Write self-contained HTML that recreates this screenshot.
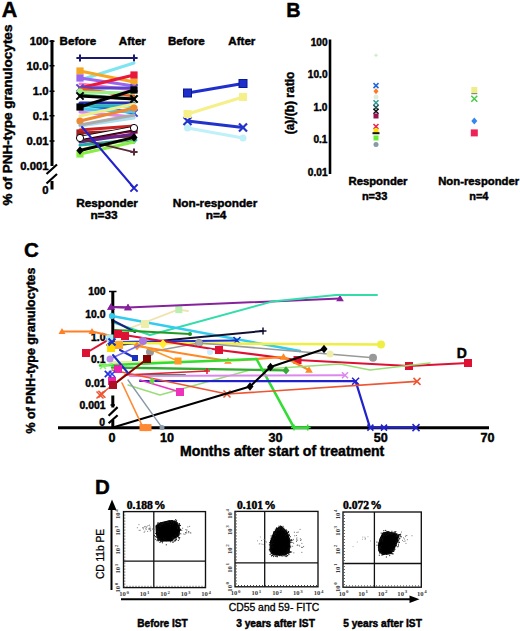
<!DOCTYPE html>
<html><head><meta charset="utf-8"><style>
html,body{margin:0;padding:0;background:#fff;}
svg{display:block;}
</style></head><body>
<svg width="520" height="631" viewBox="0 0 520 631">
<rect width="520" height="631" fill="#fff"/>
<text x="1.8" y="17.2" font-size="21.5" text-anchor="start" font-weight="bold" font-family='"Liberation Sans", sans-serif' fill="#000" stroke="#000" stroke-width="0.45" >A</text>
<text x="0" y="0" transform="translate(11.9,115) rotate(-90)" font-size="13.5" text-anchor="middle" font-weight="bold" font-family='"Liberation Sans", sans-serif' stroke="#000" stroke-width="0.45" >% of PNH-type granulocytes</text>
<path d="M52,40 L52,166 M52,181 L52,189.5" stroke="#000" stroke-width="3" fill="none"/>
<path d="M49.5,41.3 L54.5,41.3 M49.5,65.7 L54.5,65.7 M49.5,91.3 L54.5,91.3 M49.5,115.8 L54.5,115.8 M49.5,141 L54.5,141" stroke="#000" stroke-width="1.5"/>
<path d="M46.5,174 L57,164.5 M46.5,183.5 L57,174" stroke="#000" stroke-width="2.2" fill="none"/>
<text x="48.5" y="45" font-size="11.3" text-anchor="end" font-weight="bold" font-family='"Liberation Sans", sans-serif' fill="#000" stroke="#000" stroke-width="0.45" >100</text>
<text x="48.5" y="70" font-size="11.3" text-anchor="end" font-weight="bold" font-family='"Liberation Sans", sans-serif' fill="#000" stroke="#000" stroke-width="0.45" >10.0</text>
<text x="48.5" y="95" font-size="11.3" text-anchor="end" font-weight="bold" font-family='"Liberation Sans", sans-serif' fill="#000" stroke="#000" stroke-width="0.45" >1.0</text>
<text x="48.5" y="120" font-size="11.3" text-anchor="end" font-weight="bold" font-family='"Liberation Sans", sans-serif' fill="#000" stroke="#000" stroke-width="0.45" >0.1</text>
<text x="48.5" y="145" font-size="11.3" text-anchor="end" font-weight="bold" font-family='"Liberation Sans", sans-serif' fill="#000" stroke="#000" stroke-width="0.45" >0.01</text>
<text x="48.5" y="170" font-size="11.3" text-anchor="end" font-weight="bold" font-family='"Liberation Sans", sans-serif' fill="#000" stroke="#000" stroke-width="0.45" >0.001</text>
<text x="48.5" y="193.5" font-size="11.3" text-anchor="end" font-weight="bold" font-family='"Liberation Sans", sans-serif' fill="#000" stroke="#000" stroke-width="0.45" >0</text>
<text x="59.6" y="45" font-size="11.6" text-anchor="start" font-weight="bold" font-family='"Liberation Sans", sans-serif' fill="#000" stroke="#000" stroke-width="0.45" >Before</text>
<text x="118.8" y="45" font-size="11.6" text-anchor="start" font-weight="bold" font-family='"Liberation Sans", sans-serif' fill="#000" stroke="#000" stroke-width="0.45" >After</text>
<text x="168" y="45.4" font-size="11.6" text-anchor="start" font-weight="bold" font-family='"Liberation Sans", sans-serif' fill="#000" stroke="#000" stroke-width="0.45" >Before</text>
<text x="228.3" y="45.4" font-size="11.6" text-anchor="start" font-weight="bold" font-family='"Liberation Sans", sans-serif' fill="#000" stroke="#000" stroke-width="0.45" >After</text>
<text x="107" y="207" font-size="11.8" text-anchor="middle" font-weight="bold" font-family='"Liberation Sans", sans-serif' fill="#000" stroke="#000" stroke-width="0.45" >Responder</text>
<text x="104" y="219.3" font-size="11.8" text-anchor="middle" font-weight="bold" font-family='"Liberation Sans", sans-serif' fill="#000" stroke="#000" stroke-width="0.45" >n=33</text>
<text x="215" y="207" font-size="11.8" text-anchor="middle" font-weight="bold" font-family='"Liberation Sans", sans-serif' fill="#000" stroke="#000" stroke-width="0.45" >Non-responder</text>
<text x="216" y="219.3" font-size="11.8" text-anchor="middle" font-weight="bold" font-family='"Liberation Sans", sans-serif' fill="#000" stroke="#000" stroke-width="0.45" >n=4</text>
<polyline points="78,58 136,58" fill="none" stroke="#1a1a6e" stroke-width="1.8" stroke-linejoin="round" stroke-linecap="round" />
<path d="M76.4,58L83.6,58M80,54.4L80,61.6" stroke="#1a1a6e" stroke-width="2"/>
<path d="M130.4,58L137.6,58M134,54.4L134,61.6" stroke="#1a1a6e" stroke-width="2"/>
<polyline points="80,80 134,63" fill="none" stroke="#7fe5f0" stroke-width="3" stroke-linejoin="round" stroke-linecap="round" />
<polyline points="80,71 134,82" fill="none" stroke="#f5a623" stroke-width="3" stroke-linejoin="round" stroke-linecap="round" />
<rect x="76.4" y="67.4" width="7.2" height="7.2" fill="#f5a623"/>
<rect x="130.4" y="78.4" width="7.2" height="7.2" fill="#f5a623"/>
<polyline points="80,78 134,86" fill="none" stroke="#9a66ee" stroke-width="3" stroke-linejoin="round" stroke-linecap="round" />
<rect x="76.4" y="74.4" width="7.2" height="7.2" fill="#9a66ee"/>
<polyline points="80,84 134,90" fill="none" stroke="#ff77cc" stroke-width="3" stroke-linejoin="round" stroke-linecap="round" />
<polyline points="80,88 134,75" fill="none" stroke="#e8173c" stroke-width="3" stroke-linejoin="round" stroke-linecap="round" />
<rect x="130.4" y="71.4" width="7.2" height="7.2" fill="#e8173c"/>
<polyline points="80,88 134,88" fill="none" stroke="#5544cc" stroke-width="3" stroke-linejoin="round" stroke-linecap="round" />
<path d="M76.4,84.4L83.6,91.6M76.4,91.6L83.6,84.4" stroke="#5544cc" stroke-width="2"/>
<path d="M130.4,84.4L137.6,91.6M130.4,91.6L137.6,84.4" stroke="#5544cc" stroke-width="2"/>
<polyline points="80,89 134,96" fill="none" stroke="#ee5522" stroke-width="3" stroke-linejoin="round" stroke-linecap="round" />
<polyline points="80,92 134,93" fill="none" stroke="#99ee88" stroke-width="3" stroke-linejoin="round" stroke-linecap="round" />
<circle cx="80" cy="92" r="3.6" fill="#99ee88"/>
<polyline points="80,95 134,99" fill="none" stroke="#22aa44" stroke-width="3" stroke-linejoin="round" stroke-linecap="round" />
<path d="M130.4,95.4L137.6,102.6M130.4,102.6L137.6,95.4" stroke="#22aa44" stroke-width="2"/>
<polyline points="80,103 134,103" fill="none" stroke="#2233aa" stroke-width="3" stroke-linejoin="round" stroke-linecap="round" />
<polyline points="80,104 134,113" fill="none" stroke="#2244dd" stroke-width="3" stroke-linejoin="round" stroke-linecap="round" />
<path d="M130.4,109.4L137.6,116.6M130.4,116.6L137.6,109.4" stroke="#2244dd" stroke-width="2"/>
<polyline points="80,106 134,106" fill="none" stroke="#22bbbb" stroke-width="3" stroke-linejoin="round" stroke-linecap="round" />
<polyline points="80,109 134,112" fill="none" stroke="#44ccee" stroke-width="3" stroke-linejoin="round" stroke-linecap="round" />
<polyline points="80,112 134,117" fill="none" stroke="#dd88ee" stroke-width="3" stroke-linejoin="round" stroke-linecap="round" />
<polyline points="80,116 134,104" fill="none" stroke="#eeee88" stroke-width="3" stroke-linejoin="round" stroke-linecap="round" />
<polyline points="80,121 134,108" fill="none" stroke="#ee8833" stroke-width="3" stroke-linejoin="round" stroke-linecap="round" />
<circle cx="80" cy="121" r="3.6" fill="#ee8833"/>
<circle cx="134" cy="108" r="3.6" fill="#ee8833"/>
<polyline points="80,126 134,118" fill="none" stroke="#aaddee" stroke-width="3" stroke-linejoin="round" stroke-linecap="round" />
<polyline points="80,125 134,115" fill="none" stroke="#aaaaaa" stroke-width="3" stroke-linejoin="round" stroke-linecap="round" />
<polyline points="80,133 134,131" fill="none" stroke="#992222" stroke-width="3" stroke-linejoin="round" stroke-linecap="round" />
<rect x="76.4" y="129.4" width="7.2" height="7.2" fill="#992222"/>
<polyline points="80,130 134,126" fill="none" stroke="#cc2222" stroke-width="3" stroke-linejoin="round" stroke-linecap="round" />
<polyline points="80,138 134,136" fill="none" stroke="#663322" stroke-width="3" stroke-linejoin="round" stroke-linecap="round" />
<polyline points="80,140 134,130" fill="none" stroke="#770033" stroke-width="3" stroke-linejoin="round" stroke-linecap="round" />
<rect x="130.4" y="126.4" width="7.2" height="7.2" fill="#770033"/>
<polyline points="80,142 134,134" fill="none" stroke="#662288" stroke-width="3" stroke-linejoin="round" stroke-linecap="round" />
<polyline points="80,145 134,140" fill="none" stroke="#22aaaa" stroke-width="3" stroke-linejoin="round" stroke-linecap="round" />
<polygon points="134,135.68 137.6,140 134,144.32 130.4,140" fill="#22aaaa"/>
<polyline points="80,154 134,142" fill="none" stroke="#88ee44" stroke-width="3" stroke-linejoin="round" stroke-linecap="round" />
<rect x="76.4" y="150.4" width="7.2" height="7.2" fill="#88ee44"/>
<polyline points="80,150 134,138" fill="none" stroke="#bbdd33" stroke-width="3" stroke-linejoin="round" stroke-linecap="round" />
<polyline points="80,139 134,152" fill="none" stroke="#5a2a3a" stroke-width="1.8" stroke-linejoin="round" stroke-linecap="round" />
<path d="M130.4,152L137.6,152M134,148.4L134,155.6" stroke="#5a2a3a" stroke-width="2"/>
<polyline points="80,138 134,128" fill="none" stroke="#000" stroke-width="4.2" stroke-linejoin="round" stroke-linecap="round" />
<polyline points="80,138 134,128" fill="none" stroke="#fff" stroke-width="2.4" stroke-linejoin="round" stroke-linecap="round" />
<circle cx="80" cy="138" r="3.6" fill="#fff" stroke="#000" stroke-width="1"/>
<circle cx="134" cy="128" r="3.6" fill="#fff" stroke="#000" stroke-width="1"/>
<polyline points="80,107 134,90" fill="none" stroke="#000000" stroke-width="3" stroke-linejoin="round" stroke-linecap="round" />
<rect x="76.4" y="103.4" width="7.2" height="7.2" fill="#000000"/>
<rect x="130.4" y="86.4" width="7.2" height="7.2" fill="#000000"/>
<polyline points="80,150.5 134,137.4" fill="none" stroke="#000000" stroke-width="3" stroke-linejoin="round" stroke-linecap="round" />
<polygon points="80,146.18 83.6,150.5 80,154.82 76.4,150.5" fill="#000000"/>
<polygon points="134,133.08 137.6,137.4 134,141.72 130.4,137.4" fill="#000000"/>
<polyline points="82,127 134,188" fill="none" stroke="#2222cc" stroke-width="2" stroke-linejoin="round" stroke-linecap="round" />
<path d="M130.4,184.4L137.6,191.6M130.4,191.6L137.6,184.4" stroke="#2222cc" stroke-width="2"/>
<polyline points="80,96 134,99" fill="none" stroke="#000000" stroke-width="3" stroke-linejoin="round" stroke-linecap="round" />
<path d="M76.4,92.4L83.6,99.6M76.4,99.6L83.6,92.4" stroke="#000000" stroke-width="2"/>
<path d="M130.4,95.4L137.6,102.6M130.4,102.6L137.6,95.4" stroke="#000000" stroke-width="2"/>
<polyline points="187.5,128 243,138" fill="none" stroke="#c0f0f8" stroke-width="3" stroke-linejoin="round" stroke-linecap="round" />
<circle cx="187.5" cy="128" r="3.5" fill="#c0f0f8"/>
<circle cx="243" cy="138" r="3.5" fill="#c0f0f8"/>
<polyline points="187.5,121 243,127.5" fill="none" stroke="#2233cc" stroke-width="3" stroke-linejoin="round" stroke-linecap="round" />
<path d="M183.5,117L191.5,125M183.5,125L191.5,117" stroke="#2233cc" stroke-width="2.2"/>
<path d="M239,123.5L247,131.5M239,131.5L247,123.5" stroke="#2233cc" stroke-width="2.2"/>
<polyline points="187.5,114 243,97" fill="none" stroke="#f5f08a" stroke-width="3" stroke-linejoin="round" stroke-linecap="round" />
<rect x="183.5" y="110" width="8" height="8" fill="#f5f08a"/>
<rect x="239" y="93" width="8" height="8" fill="#f5f08a"/>
<polyline points="187.5,93 243,83.5" fill="none" stroke="#1f2fcc" stroke-width="3" stroke-linejoin="round" stroke-linecap="round" />
<rect x="183.5" y="89" width="8" height="8" fill="#1f2fcc"/>
<rect x="239" y="79.5" width="8" height="8" fill="#1f2fcc"/>
<rect x="183.5" y="89" width="8" height="8" fill="none" stroke="#0a1a90" stroke-width="1"/>
<rect x="239" y="79.5" width="8" height="8" fill="none" stroke="#0a1a90" stroke-width="1"/>
<text x="286.3" y="17.4" font-size="19.8" text-anchor="start" font-weight="bold" font-family='"Liberation Sans", sans-serif' fill="#000" stroke="#000" stroke-width="0.45" >B</text>
<text x="0" y="0" transform="translate(294.3,103) rotate(-90)" font-size="12" text-anchor="middle" font-weight="bold" font-family='"Liberation Sans", sans-serif' stroke="#000" stroke-width="0.45" >(a)/(b) ratio</text>
<path d="M330,39.5 L330,174" stroke="#000" stroke-width="2.6"/>
<text x="327.5" y="45.6" font-size="10.1" text-anchor="end" font-weight="bold" font-family='"Liberation Sans", sans-serif' fill="#000" stroke="#000" stroke-width="0.45" >100</text>
<text x="327.5" y="77.89999999999999" font-size="10.1" text-anchor="end" font-weight="bold" font-family='"Liberation Sans", sans-serif' fill="#000" stroke="#000" stroke-width="0.45" >10.0</text>
<text x="327.5" y="110.6" font-size="10.1" text-anchor="end" font-weight="bold" font-family='"Liberation Sans", sans-serif' fill="#000" stroke="#000" stroke-width="0.45" >1.0</text>
<text x="327.5" y="143.29999999999998" font-size="10.1" text-anchor="end" font-weight="bold" font-family='"Liberation Sans", sans-serif' fill="#000" stroke="#000" stroke-width="0.45" >0.1</text>
<text x="327.5" y="175.6" font-size="10.1" text-anchor="end" font-weight="bold" font-family='"Liberation Sans", sans-serif' fill="#000" stroke="#000" stroke-width="0.45" >0.01</text>
<text x="378" y="184.5" font-size="11.3" text-anchor="middle" font-weight="bold" font-family='"Liberation Sans", sans-serif' fill="#000" stroke="#000" stroke-width="0.45" >Responder</text>
<text x="374.6" y="199.6" font-size="11" text-anchor="middle" font-weight="bold" font-family='"Liberation Sans", sans-serif' fill="#000" stroke="#000" stroke-width="0.45" >n=33</text>
<text x="478.7" y="184.5" font-size="11.3" text-anchor="middle" font-weight="bold" font-family='"Liberation Sans", sans-serif' fill="#000" stroke="#000" stroke-width="0.45" >Non-responder</text>
<text x="478.8" y="199.6" font-size="11" text-anchor="middle" font-weight="bold" font-family='"Liberation Sans", sans-serif' fill="#000" stroke="#000" stroke-width="0.45" >n=4</text>
<path d="M374.2,55.2L377.8,55.2M376,53.400000000000006L376,57.0" stroke="#c4eac4" stroke-width="1.1"/>
<path d="M373.5,83.1L378.5,88.1M373.5,88.1L378.5,83.1" stroke="#2266dd" stroke-width="1.5"/>
<polygon points="376,88.3 378.5,91.3 376,94.3 373.5,91.3" fill="#ff7722"/>
<circle cx="376" cy="97" r="2.5" fill="#ddeedd"/>
<path d="M373.5,100.2L378.5,105.2M373.5,105.2L378.5,100.2" stroke="#339999" stroke-width="1.5"/>
<path d="M373.5,105.0L378.5,110.0M373.5,110.0L378.5,105.0" stroke="#225555" stroke-width="1.5"/>
<path d="M373.5,108.8L378.5,113.8M373.5,113.8L378.5,108.8" stroke="#111111" stroke-width="1.5"/>
<rect x="373.5" y="113.5" width="5.0" height="5.0" fill="#991155"/>
<path d="M373.5,124.0L378.5,129.0M373.5,129.0L378.5,124.0" stroke="#ee2244" stroke-width="1.5"/>
<rect x="373.5" y="128.5" width="5.0" height="5.0" fill="#ffdd00"/>
<rect x="372.5" y="132.2" width="7" height="2" fill="#111"/>
<rect x="373.5" y="135.5" width="5.0" height="5.0" fill="#66ee33"/>
<circle cx="376" cy="144.6" r="2.5" fill="#8899aa"/>
<rect x="471.3" y="87" width="6" height="6" fill="#eeee88"/>
<rect x="471.3" y="93" width="6" height="1.2" fill="#888"/>
<path d="M471.3,95.8L477.3,101.8M471.3,101.8L477.3,95.8" stroke="#44cc44" stroke-width="1.5"/>
<polygon points="474.3,117.4 477.3,121 474.3,124.6 471.3,121" fill="#3388ee"/>
<rect x="470.8" y="129.4" width="7.0" height="7.0" fill="#ee2255"/>
<text x="24" y="256.6" font-size="20.5" text-anchor="start" font-weight="bold" font-family='"Liberation Sans", sans-serif' fill="#000" stroke="#000" stroke-width="0.45" >C</text>
<text x="0" y="0" transform="translate(35.3,350.6) rotate(-90)" font-size="12.4" text-anchor="middle" font-weight="bold" font-family='"Liberation Sans", sans-serif' stroke="#000" stroke-width="0.45" >% of PNH-type granulocytes</text>
<text x="105.5" y="295.4" font-size="10.4" text-anchor="end" font-weight="bold" font-family='"Liberation Sans", sans-serif' fill="#000" stroke="#000" stroke-width="0.45" >100</text>
<text x="105.5" y="318.0" font-size="10.4" text-anchor="end" font-weight="bold" font-family='"Liberation Sans", sans-serif' fill="#000" stroke="#000" stroke-width="0.45" >10.0</text>
<text x="105.5" y="341.2" font-size="10.4" text-anchor="end" font-weight="bold" font-family='"Liberation Sans", sans-serif' fill="#000" stroke="#000" stroke-width="0.45" >1.0</text>
<text x="105.5" y="363.0" font-size="10.4" text-anchor="end" font-weight="bold" font-family='"Liberation Sans", sans-serif' fill="#000" stroke="#000" stroke-width="0.45" >0.1</text>
<text x="105.5" y="386.9" font-size="10.4" text-anchor="end" font-weight="bold" font-family='"Liberation Sans", sans-serif' fill="#000" stroke="#000" stroke-width="0.45" >0.01</text>
<text x="105.5" y="408.5" font-size="10.4" text-anchor="end" font-weight="bold" font-family='"Liberation Sans", sans-serif' fill="#000" stroke="#000" stroke-width="0.45" >0.001</text>
<text x="105" y="425.5" font-size="10.4" text-anchor="end" font-weight="bold" font-family='"Liberation Sans", sans-serif' fill="#000" stroke="#000" stroke-width="0.45" >0</text>
<text x="112" y="442" font-size="12.6" text-anchor="middle" font-weight="bold" font-family='"Liberation Sans", sans-serif' fill="#000" stroke="#000" stroke-width="0.45" >0</text>
<text x="167" y="442" font-size="12.6" text-anchor="middle" font-weight="bold" font-family='"Liberation Sans", sans-serif' fill="#000" stroke="#000" stroke-width="0.45" >10</text>
<text x="275.5" y="442" font-size="12.6" text-anchor="middle" font-weight="bold" font-family='"Liberation Sans", sans-serif' fill="#000" stroke="#000" stroke-width="0.45" >30</text>
<text x="380.7" y="442" font-size="12.6" text-anchor="middle" font-weight="bold" font-family='"Liberation Sans", sans-serif' fill="#000" stroke="#000" stroke-width="0.45" >50</text>
<text x="487.6" y="442" font-size="12.6" text-anchor="middle" font-weight="bold" font-family='"Liberation Sans", sans-serif' fill="#000" stroke="#000" stroke-width="0.45" >70</text>
<text x="282.1" y="456" font-size="14.1" text-anchor="middle" font-weight="bold" font-family='"Liberation Sans", sans-serif' fill="#000" stroke="#000" stroke-width="0.45" >Months after start of treatment</text>
<text x="456.8" y="357.5" font-size="14" text-anchor="start" font-weight="bold" font-family='"Liberation Sans", sans-serif' fill="#000" stroke="#000" stroke-width="0.45" >D</text>
<path d="M58,427.7 L489,427.7" stroke="#000" stroke-width="3"/>
<polyline points="62,331.5 92,331.5 112,336" fill="none" stroke="#ff7f27" stroke-width="2" stroke-linejoin="round" stroke-linecap="round" />
<polygon points="62,327.98 65.52,334.06 58.48,334.06" fill="#ff7f27"/>
<polygon points="92,327.98 95.52,334.06 88.48,334.06" fill="#ff7f27"/>
<polyline points="120,332 178,309.6 188,311" fill="none" stroke="#f2e2b0" stroke-width="1.8" stroke-linejoin="round" stroke-linecap="round" />
<rect x="175.3" y="306.1" width="7.0" height="7.0" fill="#b8f0b0"/>
<polyline points="111,307 128,307.5 340,298.5" fill="none" stroke="#86229c" stroke-width="2" stroke-linejoin="round" stroke-linecap="round" />
<polygon points="111,303.15 114.85,309.8 107.15,309.8" fill="#86229c"/>
<polygon points="128,303.65 131.85,310.3 124.15,310.3" fill="#86229c"/>
<polygon points="340,294.65 343.85,301.3 336.15,301.3" fill="#86229c"/>
<polyline points="112,322 150,335 272,301.6 336,295 377,295" fill="none" stroke="#33ddaa" stroke-width="2" stroke-linejoin="round" stroke-linecap="round" />
<polyline points="112,316 300,351" fill="none" stroke="#33ccee" stroke-width="2.4" stroke-linejoin="round" stroke-linecap="round" />
<circle cx="112" cy="316" r="3" fill="#33ccee"/>
<polyline points="112,320 135,332" fill="none" stroke="#1a237e" stroke-width="2" stroke-linejoin="round" stroke-linecap="round" />
<polyline points="112,345.5 263,331" fill="none" stroke="#111133" stroke-width="2" stroke-linejoin="round" stroke-linecap="round" />
<path d="M259.5,331L266.5,331M263,327.5L263,334.5" stroke="#111133" stroke-width="1.5"/>
<polyline points="110,342 237,340.5" fill="none" stroke="#1a2fbf" stroke-width="2.2" stroke-linejoin="round" stroke-linecap="round" />
<path d="M106.5,338.5L113.5,345.5M106.5,345.5L113.5,338.5" stroke="#1a2fbf" stroke-width="1.5"/>
<path d="M233.5,337.0L240.5,344.0M233.5,344.0L240.5,337.0" stroke="#1a2fbf" stroke-width="1.5"/>
<polyline points="112,343 381,344.5" fill="none" stroke="#eeee44" stroke-width="2.4" stroke-linejoin="round" stroke-linecap="round" />
<circle cx="381" cy="344.5" r="4" fill="#eeee44"/>
<polyline points="150,352 199,343 373,357.8" fill="none" stroke="#999999" stroke-width="1.6" stroke-linejoin="round" stroke-linecap="round" />
<circle cx="150" cy="352" r="4" fill="#999999"/>
<circle cx="199" cy="343" r="4" fill="#999999"/>
<circle cx="373" cy="357.8" r="4" fill="#999999"/>
<polyline points="118,334 219,350 297.5,360 409,366 468,363" fill="none" stroke="#dd1133" stroke-width="2.2" stroke-linejoin="round" stroke-linecap="round" />
<rect x="114" y="330" width="8" height="8" fill="#dd1133"/>
<rect x="215" y="346" width="8" height="8" fill="#dd1133"/>
<rect x="293.5" y="356" width="8" height="8" fill="#dd1133"/>
<rect x="405" y="362" width="8" height="8" fill="#dd1133"/>
<rect x="464" y="359" width="8" height="8" fill="#dd1133"/>
<rect x="121" y="332" width="8" height="8" fill="#dd1133"/>
<polyline points="137,346 228,361 283.5,357 309,370" fill="none" stroke="#ff8822" stroke-width="2" stroke-linejoin="round" stroke-linecap="round" />
<polygon points="137,341.8 140.5,346 137,350.2 133.5,346" fill="#ff8822"/>
<polygon points="228,357.15 231.85,363.8 224.15,363.8" fill="#ff8822"/>
<polygon points="283.5,353.15 287.35,359.8 279.65,359.8" fill="#ff8822"/>
<polygon points="309,366.15 312.85,372.8 305.15,372.8" fill="#ff8822"/>
<polyline points="112,362 240,361" fill="none" stroke="#eef0a0" stroke-width="2.2" stroke-linejoin="round" stroke-linecap="round" />
<polyline points="128,385 160,395 185,388 250,370 340,364 370,370 430,363" fill="none" stroke="#99dd77" stroke-width="1.4" stroke-linejoin="round" stroke-linecap="round" />
<polyline points="115,330 190,334" fill="none" stroke="#229922" stroke-width="2.2" stroke-linejoin="round" stroke-linecap="round" />
<circle cx="190" cy="334" r="2" fill="#229922"/>
<polyline points="112,367.5 286,370.4" fill="none" stroke="#33aa33" stroke-width="2.4" stroke-linejoin="round" stroke-linecap="round" />
<polygon points="286,366.2 289.5,370.4 286,374.59999999999997 282.5,370.4" fill="#33aa33"/>
<polyline points="130,375 185,375" fill="none" stroke="#338833" stroke-width="2" stroke-linejoin="round" stroke-linecap="round" />
<polyline points="100,365.5 256.5,359 294,427.6 307.7,427.6" fill="none" stroke="#33dd33" stroke-width="2.6" stroke-linejoin="round" stroke-linecap="round" />
<path d="M291,427.6L297,427.6M294,424.6L294,430.6" stroke="#33dd33" stroke-width="1.5"/>
<path d="M304.7,427.6L310.7,427.6M307.7,424.6L307.7,430.6" stroke="#33dd33" stroke-width="1.5"/>
<polyline points="125,375 207,371" fill="none" stroke="#dd2233" stroke-width="1.6" stroke-linejoin="round" stroke-linecap="round" />
<path d="M204,371L210,371M207,368L207,374" stroke="#dd2233" stroke-width="1.5"/>
<polyline points="130,376 345,375.2" fill="none" stroke="#dd88ee" stroke-width="2" stroke-linejoin="round" stroke-linecap="round" />
<path d="M342,372.2L348,378.2M342,378.2L348,372.2" stroke="#dd88ee" stroke-width="1.5"/>
<polyline points="140,381 355.6,381.2 370,427.6 416,427.6" fill="none" stroke="#2222cc" stroke-width="2.2" stroke-linejoin="round" stroke-linecap="round" />
<path d="M352.1,377.7L359.1,384.7M352.1,384.7L359.1,377.7" stroke="#2222cc" stroke-width="1.5"/>
<path d="M412.5,424.1L419.5,431.1M412.5,431.1L419.5,424.1" stroke="#2222cc" stroke-width="1.5"/>
<path d="M381,424.6L387,430.6M381,430.6L387,424.6" stroke="#2222cc" stroke-width="1.6"/>
<path d="M367.4,424.6L373.4,430.6M367.4,430.6L373.4,424.6" stroke="#2222cc" stroke-width="1.6"/>
<polyline points="112,370 227,394 417,381.4" fill="none" stroke="#ee5533" stroke-width="1.6" stroke-linejoin="round" stroke-linecap="round" />
<path d="M223.5,390.5L230.5,397.5M223.5,397.5L230.5,390.5" stroke="#ee5533" stroke-width="1.5"/>
<path d="M413.5,377.9L420.5,384.9M413.5,384.9L420.5,377.9" stroke="#ee5533" stroke-width="1.5"/>
<polyline points="112,427.7 250,386.5 270.5,367 324,349" fill="none" stroke="#000000" stroke-width="2" stroke-linejoin="round" stroke-linecap="round" />
<polygon points="250,382.3 253.5,386.5 250,390.7 246.5,386.5" fill="#000000"/>
<polygon points="270.5,362.8 274.0,367 270.5,371.2 267.0,367" fill="#000000"/>
<polygon points="324,344.8 327.5,349 324,353.2 320.5,349" fill="#000000"/>
<polyline points="122,383 143,427.6" fill="none" stroke="#ff8833" stroke-width="1.6" stroke-linejoin="round" stroke-linecap="round" />
<rect x="139.5" y="424.1" width="7.0" height="7.0" fill="#ff8833"/>
<rect x="144.5" y="424.1" width="7.0" height="7.0" fill="#ff8833"/>
<polyline points="128,380 162,427.6" fill="none" stroke="#8899aa" stroke-width="1.4" stroke-linejoin="round" stroke-linecap="round" />
<circle cx="162" cy="427.6" r="2.5" fill="#8899aa"/>
<polyline points="140,380 180,392" fill="none" stroke="#ee33bb" stroke-width="1.6" stroke-linejoin="round" stroke-linecap="round" />
<rect x="176" y="388" width="8" height="8" fill="#ee33bb"/>
<polyline points="86,353 106.5,340.8" fill="none" stroke="#dd1133" stroke-width="2" stroke-linejoin="round" stroke-linecap="round" />
<rect x="82" y="349" width="8" height="8" fill="#dd1133"/>
<polyline points="100,395 125,375" fill="none" stroke="#ee5533" stroke-width="1.6" stroke-linejoin="round" stroke-linecap="round" />
<path d="M96.5,391.5L103.5,398.5M96.5,398.5L103.5,391.5" stroke="#ee5533" stroke-width="1.5"/>
<polyline points="140,345 178,361" fill="none" stroke="#ff9922" stroke-width="1.6" stroke-linejoin="round" stroke-linecap="round" />
<rect x="174.5" y="357.5" width="7.0" height="7.0" fill="#ff9922"/>
<polyline points="112,386 147,359" fill="none" stroke="#880000" stroke-width="2" stroke-linejoin="round" stroke-linecap="round" />
<rect x="143" y="355" width="8" height="8" fill="#880000"/>
<polyline points="120,350 135,358" fill="none" stroke="#1a2fbf" stroke-width="2.2" stroke-linejoin="round" stroke-linecap="round" />
<rect x="132" y="355" width="6" height="6" fill="#1a2fbf"/>
<path d="M112.8,291.5 L112.8,342 M112.8,395.5 L112.8,407.6 M112.8,420 L112.8,428" stroke="#000" stroke-width="3" fill="none"/>
<path d="M109,291.5 L116.5,291.5 M110.5,405 L115,405" stroke="#000" stroke-width="1.6"/>
<path d="M108.6,415.7 L117.6,407.1 M108.6,423.3 L117.6,415.2" stroke="#000" stroke-width="2.2" fill="none"/>
<polyline points="110,359 140,345" fill="none" stroke="#7a6ff0" stroke-width="1.4" stroke-linejoin="round" stroke-linecap="round" />
<polyline points="113,355 128,373" fill="none" stroke="#1a2fbf" stroke-width="2" stroke-linejoin="round" stroke-linecap="round" />
<polyline points="103,366 112,364" fill="none" stroke="#88ee66" stroke-width="2" stroke-linejoin="round" stroke-linecap="round" />
<path d="M100,363L106,369M100,369L106,363" stroke="#88ee66" stroke-width="1.5"/>
<polyline points="111,307 128,307.5" fill="none" stroke="#86229c" stroke-width="2" stroke-linejoin="round" stroke-linecap="round" />
<polygon points="111,303.15 114.85,309.8 107.15,309.8" fill="#86229c"/>
<polygon points="128,303.65 131.85,310.3 124.15,310.3" fill="#86229c"/>
<circle cx="112" cy="316" r="3" fill="#33ccee"/>
<circle cx="143" cy="341" r="4" fill="#aa77dd"/>
<polygon points="163,339.2 167,344 163,348.8 159,344" fill="#ffee33"/>
<rect x="141" y="320" width="8" height="8" fill="#eeeeaa"/>
<rect x="107" y="344" width="8" height="8" fill="#ffdd00"/>
<rect x="115" y="341" width="8" height="8" fill="#ffaa22"/>
<rect x="106.5" y="334.5" width="7.0" height="7.0" fill="#aaeeee"/>
<rect x="114" y="330" width="8" height="8" fill="#dd1133"/>
<rect x="121" y="332" width="8" height="8" fill="#dd1133"/>
<path d="M108.5,338.5L115.5,345.5M108.5,345.5L115.5,338.5" stroke="#1a2fbf" stroke-width="2"/>
<circle cx="110" cy="359" r="3.5" fill="#bb88ee"/>
<circle cx="199" cy="343" r="3" fill="#aaaaaa"/>
<circle cx="210" cy="352" r="3" fill="#cceeff"/>
<circle cx="330" cy="354" r="3.5" fill="#eeeeaa"/>
<rect x="114" y="365" width="8" height="8" fill="#ee22aa"/>
<rect x="108" y="377" width="8" height="8" fill="#ee22aa"/>
<rect x="109" y="381" width="8" height="8" fill="#aa1122"/>
<path d="M104.8,370.8L111.2,377.2M104.8,377.2L111.2,370.8" stroke="#2233dd" stroke-width="1.8"/>
<path d="M109,371L115,377M109,377L115,371" stroke="#3344ee" stroke-width="1.6"/>
<polygon points="152,377.4 155,381 152,384.6 149,381" fill="#66dd44"/>
<path d="M98.4,390.8L105.4,397.8M98.4,397.8L105.4,390.8" stroke="#ee5533" stroke-width="1.6"/>
<text x="95" y="493.7" font-size="20.5" text-anchor="start" font-weight="bold" font-family='"Liberation Sans", sans-serif' fill="#000" stroke="#000" stroke-width="0.45" >D</text>
<path d="M111.5,590 L111.5,508" stroke="#000" stroke-width="2"/>
<polygon points="112,499.5 107.8,510 116.5,510" fill="#000"/>
<text x="0" y="0" transform="translate(104.2,554) rotate(-90)" font-size="10.2" text-anchor="middle" font-weight="normal" font-family='"Liberation Sans", sans-serif' stroke="#000" stroke-width="0.3" >CD 11b PE</text>
<path d="M121,599.3 L411,599.3" stroke="#000" stroke-width="2"/>
<polygon points="419.5,599.3 409.5,595.5 409.5,603.1" fill="#000"/>
<text x="274" y="610.6" font-size="10.4" text-anchor="middle" font-weight="normal" font-family='"Liberation Sans", sans-serif' fill="#000" stroke="#000" stroke-width="0.3" >CD55 and 59- FITC</text>
<text x="162.5" y="626.6" font-size="10.1" text-anchor="middle" font-weight="bold" font-family='"Liberation Sans", sans-serif' fill="#000" stroke="#000" stroke-width="0.45" >Before IST</text>
<text x="275.5" y="627.3" font-size="10.2" text-anchor="middle" font-weight="bold" font-family='"Liberation Sans", sans-serif' fill="#000" stroke="#000" stroke-width="0.45" >3 years after IST</text>
<text x="382.5" y="627" font-size="10.2" text-anchor="middle" font-weight="bold" font-family='"Liberation Sans", sans-serif' fill="#000" stroke="#000" stroke-width="0.45" >5 years after IST</text>
<rect x="123.5" y="511.6" width="82.0" height="76.0" fill="none" stroke="#111" stroke-width="1.35"/>
<path d="M153.8,511.6 L153.8,587.6 M123.5,561.2 L205.5,561.2" stroke="#111" stroke-width="1.3"/>
<text x="126.8" y="508.6" font-size="11.6" text-anchor="start" font-weight="bold" font-family='"Liberation Serif", serif' fill="#000" stroke="#000" stroke-width="0.45" >0.188<tspan dx="1.2">%</tspan></text>
<text transform="translate(120.3,587.6) rotate(-90)" font-size="6.6" text-anchor="middle" font-family='"Liberation Serif", serif' font-weight="bold" fill="#3a3a3a">10<tspan dx="0.7" dy="-2.4" font-size="4.9">0</tspan></text>
<text x="124.0" y="595.9" font-size="6.6" text-anchor="middle" font-family='"Liberation Serif", serif' font-weight="bold" fill="#3a3a3a">10<tspan dx="0.7" dy="-2.4" font-size="4.9">0</tspan></text>
<text transform="translate(120.3,568.6) rotate(-90)" font-size="6.6" text-anchor="middle" font-family='"Liberation Serif", serif' font-weight="bold" fill="#3a3a3a">10<tspan dx="0.7" dy="-2.4" font-size="4.9">1</tspan></text>
<text x="144.5" y="595.9" font-size="6.6" text-anchor="middle" font-family='"Liberation Serif", serif' font-weight="bold" fill="#3a3a3a">10<tspan dx="0.7" dy="-2.4" font-size="4.9">1</tspan></text>
<text transform="translate(120.3,549.6) rotate(-90)" font-size="6.6" text-anchor="middle" font-family='"Liberation Serif", serif' font-weight="bold" fill="#3a3a3a">10<tspan dx="0.7" dy="-2.4" font-size="4.9">2</tspan></text>
<text x="165.0" y="595.9" font-size="6.6" text-anchor="middle" font-family='"Liberation Serif", serif' font-weight="bold" fill="#3a3a3a">10<tspan dx="0.7" dy="-2.4" font-size="4.9">2</tspan></text>
<text transform="translate(120.3,530.6) rotate(-90)" font-size="6.6" text-anchor="middle" font-family='"Liberation Serif", serif' font-weight="bold" fill="#3a3a3a">10<tspan dx="0.7" dy="-2.4" font-size="4.9">3</tspan></text>
<text x="185.5" y="595.9" font-size="6.6" text-anchor="middle" font-family='"Liberation Serif", serif' font-weight="bold" fill="#3a3a3a">10<tspan dx="0.7" dy="-2.4" font-size="4.9">3</tspan></text>
<text transform="translate(120.3,514.1) rotate(-90)" font-size="6.6" text-anchor="middle" font-family='"Liberation Serif", serif' font-weight="bold" fill="#3a3a3a">10<tspan dx="0.7" dy="-2.4" font-size="4.9">4</tspan></text>
<text x="206.0" y="595.9" font-size="6.6" text-anchor="middle" font-family='"Liberation Serif", serif' font-weight="bold" fill="#3a3a3a">10<tspan dx="0.7" dy="-2.4" font-size="4.9">4</tspan></text>
<rect x="124.3" y="511.6" width="1" height="1" fill="#444"/><rect x="124.3" y="514.6" width="1" height="1" fill="#444"/><rect x="124.3" y="517.6" width="1" height="1" fill="#444"/><rect x="124.3" y="520.6" width="1" height="1" fill="#444"/><rect x="124.3" y="523.6" width="1" height="1" fill="#444"/><rect x="124.3" y="526.6" width="1" height="1" fill="#444"/><rect x="124.3" y="529.6" width="1" height="1" fill="#444"/><rect x="124.3" y="532.6" width="1" height="1" fill="#444"/><rect x="124.3" y="535.6" width="1" height="1" fill="#444"/><rect x="124.3" y="538.6" width="1" height="1" fill="#444"/><rect x="124.3" y="541.6" width="1" height="1" fill="#444"/><rect x="124.3" y="544.6" width="1" height="1" fill="#444"/><rect x="124.3" y="547.6" width="1" height="1" fill="#444"/><rect x="124.3" y="550.6" width="1" height="1" fill="#444"/><rect x="124.3" y="553.6" width="1" height="1" fill="#444"/><rect x="124.3" y="556.6" width="1" height="1" fill="#444"/><rect x="124.3" y="559.6" width="1" height="1" fill="#444"/><rect x="124.3" y="562.6" width="1" height="1" fill="#444"/><rect x="124.3" y="565.6" width="1" height="1" fill="#444"/><rect x="124.3" y="568.6" width="1" height="1" fill="#444"/><rect x="124.3" y="571.6" width="1" height="1" fill="#444"/><rect x="124.3" y="574.6" width="1" height="1" fill="#444"/><rect x="124.3" y="577.6" width="1" height="1" fill="#444"/><rect x="124.3" y="580.6" width="1" height="1" fill="#444"/><rect x="124.3" y="583.6" width="1" height="1" fill="#444"/><rect x="124.3" y="586.6" width="1" height="1" fill="#444"/><rect x="123.5" y="585.8000000000001" width="1" height="1" fill="#444"/><rect x="126.5" y="585.8000000000001" width="1" height="1" fill="#444"/><rect x="129.5" y="585.8000000000001" width="1" height="1" fill="#444"/><rect x="132.5" y="585.8000000000001" width="1" height="1" fill="#444"/><rect x="135.5" y="585.8000000000001" width="1" height="1" fill="#444"/><rect x="138.5" y="585.8000000000001" width="1" height="1" fill="#444"/><rect x="141.5" y="585.8000000000001" width="1" height="1" fill="#444"/><rect x="144.5" y="585.8000000000001" width="1" height="1" fill="#444"/><rect x="147.5" y="585.8000000000001" width="1" height="1" fill="#444"/><rect x="150.5" y="585.8000000000001" width="1" height="1" fill="#444"/><rect x="153.5" y="585.8000000000001" width="1" height="1" fill="#444"/><rect x="156.5" y="585.8000000000001" width="1" height="1" fill="#444"/><rect x="159.5" y="585.8000000000001" width="1" height="1" fill="#444"/><rect x="162.5" y="585.8000000000001" width="1" height="1" fill="#444"/><rect x="165.5" y="585.8000000000001" width="1" height="1" fill="#444"/><rect x="168.5" y="585.8000000000001" width="1" height="1" fill="#444"/><rect x="171.5" y="585.8000000000001" width="1" height="1" fill="#444"/><rect x="174.5" y="585.8000000000001" width="1" height="1" fill="#444"/><rect x="177.5" y="585.8000000000001" width="1" height="1" fill="#444"/><rect x="180.5" y="585.8000000000001" width="1" height="1" fill="#444"/><rect x="183.5" y="585.8000000000001" width="1" height="1" fill="#444"/><rect x="186.5" y="585.8000000000001" width="1" height="1" fill="#444"/><rect x="189.5" y="585.8000000000001" width="1" height="1" fill="#444"/><rect x="192.5" y="585.8000000000001" width="1" height="1" fill="#444"/><rect x="195.5" y="585.8000000000001" width="1" height="1" fill="#444"/><rect x="198.5" y="585.8000000000001" width="1" height="1" fill="#444"/><rect x="201.5" y="585.8000000000001" width="1" height="1" fill="#444"/><rect x="204.5" y="585.8000000000001" width="1" height="1" fill="#444"/>
<rect x="235" y="511.4" width="83" height="75.39999999999998" fill="none" stroke="#111" stroke-width="1.35"/>
<path d="M264.7,511.4 L264.7,586.8 M235,562.8 L318,562.8" stroke="#111" stroke-width="1.3"/>
<text x="237" y="508.6" font-size="11.6" text-anchor="start" font-weight="bold" font-family='"Liberation Serif", serif' fill="#000" stroke="#000" stroke-width="0.45" >0.101<tspan dx="1.2">%</tspan></text>
<text transform="translate(231.8,586.8) rotate(-90)" font-size="6.6" text-anchor="middle" font-family='"Liberation Serif", serif' font-weight="bold" fill="#3a3a3a">10<tspan dx="0.7" dy="-2.4" font-size="4.9">0</tspan></text>
<text x="235.5" y="595.0999999999999" font-size="6.6" text-anchor="middle" font-family='"Liberation Serif", serif' font-weight="bold" fill="#3a3a3a">10<tspan dx="0.7" dy="-2.4" font-size="4.9">0</tspan></text>
<text transform="translate(231.8,567.9499999999999) rotate(-90)" font-size="6.6" text-anchor="middle" font-family='"Liberation Serif", serif' font-weight="bold" fill="#3a3a3a">10<tspan dx="0.7" dy="-2.4" font-size="4.9">1</tspan></text>
<text x="256.25" y="595.0999999999999" font-size="6.6" text-anchor="middle" font-family='"Liberation Serif", serif' font-weight="bold" fill="#3a3a3a">10<tspan dx="0.7" dy="-2.4" font-size="4.9">1</tspan></text>
<text transform="translate(231.8,549.0999999999999) rotate(-90)" font-size="6.6" text-anchor="middle" font-family='"Liberation Serif", serif' font-weight="bold" fill="#3a3a3a">10<tspan dx="0.7" dy="-2.4" font-size="4.9">2</tspan></text>
<text x="277.0" y="595.0999999999999" font-size="6.6" text-anchor="middle" font-family='"Liberation Serif", serif' font-weight="bold" fill="#3a3a3a">10<tspan dx="0.7" dy="-2.4" font-size="4.9">2</tspan></text>
<text transform="translate(231.8,530.25) rotate(-90)" font-size="6.6" text-anchor="middle" font-family='"Liberation Serif", serif' font-weight="bold" fill="#3a3a3a">10<tspan dx="0.7" dy="-2.4" font-size="4.9">3</tspan></text>
<text x="297.75" y="595.0999999999999" font-size="6.6" text-anchor="middle" font-family='"Liberation Serif", serif' font-weight="bold" fill="#3a3a3a">10<tspan dx="0.7" dy="-2.4" font-size="4.9">3</tspan></text>
<text transform="translate(231.8,513.9) rotate(-90)" font-size="6.6" text-anchor="middle" font-family='"Liberation Serif", serif' font-weight="bold" fill="#3a3a3a">10<tspan dx="0.7" dy="-2.4" font-size="4.9">4</tspan></text>
<text x="318.5" y="595.0999999999999" font-size="6.6" text-anchor="middle" font-family='"Liberation Serif", serif' font-weight="bold" fill="#3a3a3a">10<tspan dx="0.7" dy="-2.4" font-size="4.9">4</tspan></text>
<rect x="235.8" y="511.4" width="1" height="1" fill="#444"/><rect x="235.8" y="514.4" width="1" height="1" fill="#444"/><rect x="235.8" y="517.4" width="1" height="1" fill="#444"/><rect x="235.8" y="520.4" width="1" height="1" fill="#444"/><rect x="235.8" y="523.4" width="1" height="1" fill="#444"/><rect x="235.8" y="526.4" width="1" height="1" fill="#444"/><rect x="235.8" y="529.4" width="1" height="1" fill="#444"/><rect x="235.8" y="532.4" width="1" height="1" fill="#444"/><rect x="235.8" y="535.4" width="1" height="1" fill="#444"/><rect x="235.8" y="538.4" width="1" height="1" fill="#444"/><rect x="235.8" y="541.4" width="1" height="1" fill="#444"/><rect x="235.8" y="544.4" width="1" height="1" fill="#444"/><rect x="235.8" y="547.4" width="1" height="1" fill="#444"/><rect x="235.8" y="550.4" width="1" height="1" fill="#444"/><rect x="235.8" y="553.4" width="1" height="1" fill="#444"/><rect x="235.8" y="556.4" width="1" height="1" fill="#444"/><rect x="235.8" y="559.4" width="1" height="1" fill="#444"/><rect x="235.8" y="562.4" width="1" height="1" fill="#444"/><rect x="235.8" y="565.4" width="1" height="1" fill="#444"/><rect x="235.8" y="568.4" width="1" height="1" fill="#444"/><rect x="235.8" y="571.4" width="1" height="1" fill="#444"/><rect x="235.8" y="574.4" width="1" height="1" fill="#444"/><rect x="235.8" y="577.4" width="1" height="1" fill="#444"/><rect x="235.8" y="580.4" width="1" height="1" fill="#444"/><rect x="235.8" y="583.4" width="1" height="1" fill="#444"/><rect x="235" y="585.0" width="1" height="1" fill="#444"/><rect x="238" y="585.0" width="1" height="1" fill="#444"/><rect x="241" y="585.0" width="1" height="1" fill="#444"/><rect x="244" y="585.0" width="1" height="1" fill="#444"/><rect x="247" y="585.0" width="1" height="1" fill="#444"/><rect x="250" y="585.0" width="1" height="1" fill="#444"/><rect x="253" y="585.0" width="1" height="1" fill="#444"/><rect x="256" y="585.0" width="1" height="1" fill="#444"/><rect x="259" y="585.0" width="1" height="1" fill="#444"/><rect x="262" y="585.0" width="1" height="1" fill="#444"/><rect x="265" y="585.0" width="1" height="1" fill="#444"/><rect x="268" y="585.0" width="1" height="1" fill="#444"/><rect x="271" y="585.0" width="1" height="1" fill="#444"/><rect x="274" y="585.0" width="1" height="1" fill="#444"/><rect x="277" y="585.0" width="1" height="1" fill="#444"/><rect x="280" y="585.0" width="1" height="1" fill="#444"/><rect x="283" y="585.0" width="1" height="1" fill="#444"/><rect x="286" y="585.0" width="1" height="1" fill="#444"/><rect x="289" y="585.0" width="1" height="1" fill="#444"/><rect x="292" y="585.0" width="1" height="1" fill="#444"/><rect x="295" y="585.0" width="1" height="1" fill="#444"/><rect x="298" y="585.0" width="1" height="1" fill="#444"/><rect x="301" y="585.0" width="1" height="1" fill="#444"/><rect x="304" y="585.0" width="1" height="1" fill="#444"/><rect x="307" y="585.0" width="1" height="1" fill="#444"/><rect x="310" y="585.0" width="1" height="1" fill="#444"/><rect x="313" y="585.0" width="1" height="1" fill="#444"/><rect x="316" y="585.0" width="1" height="1" fill="#444"/>
<rect x="343" y="512" width="78.30000000000001" height="75.20000000000005" fill="none" stroke="#111" stroke-width="1.35"/>
<path d="M374.4,512 L374.4,587.2 M343,563.5 L421.3,563.5" stroke="#111" stroke-width="1.3"/>
<text x="343" y="508.6" font-size="11.6" text-anchor="start" font-weight="bold" font-family='"Liberation Serif", serif' fill="#000" stroke="#000" stroke-width="0.45" >0.072<tspan dx="1.2">%</tspan></text>
<text transform="translate(339.8,587.2) rotate(-90)" font-size="6.6" text-anchor="middle" font-family='"Liberation Serif", serif' font-weight="bold" fill="#3a3a3a">10<tspan dx="0.7" dy="-2.4" font-size="4.9">0</tspan></text>
<text x="343.5" y="595.5" font-size="6.6" text-anchor="middle" font-family='"Liberation Serif", serif' font-weight="bold" fill="#3a3a3a">10<tspan dx="0.7" dy="-2.4" font-size="4.9">0</tspan></text>
<text transform="translate(339.8,568.4000000000001) rotate(-90)" font-size="6.6" text-anchor="middle" font-family='"Liberation Serif", serif' font-weight="bold" fill="#3a3a3a">10<tspan dx="0.7" dy="-2.4" font-size="4.9">1</tspan></text>
<text x="363.075" y="595.5" font-size="6.6" text-anchor="middle" font-family='"Liberation Serif", serif' font-weight="bold" fill="#3a3a3a">10<tspan dx="0.7" dy="-2.4" font-size="4.9">1</tspan></text>
<text transform="translate(339.8,549.6) rotate(-90)" font-size="6.6" text-anchor="middle" font-family='"Liberation Serif", serif' font-weight="bold" fill="#3a3a3a">10<tspan dx="0.7" dy="-2.4" font-size="4.9">2</tspan></text>
<text x="382.65" y="595.5" font-size="6.6" text-anchor="middle" font-family='"Liberation Serif", serif' font-weight="bold" fill="#3a3a3a">10<tspan dx="0.7" dy="-2.4" font-size="4.9">2</tspan></text>
<text transform="translate(339.8,530.8) rotate(-90)" font-size="6.6" text-anchor="middle" font-family='"Liberation Serif", serif' font-weight="bold" fill="#3a3a3a">10<tspan dx="0.7" dy="-2.4" font-size="4.9">3</tspan></text>
<text x="402.225" y="595.5" font-size="6.6" text-anchor="middle" font-family='"Liberation Serif", serif' font-weight="bold" fill="#3a3a3a">10<tspan dx="0.7" dy="-2.4" font-size="4.9">3</tspan></text>
<text transform="translate(339.8,514.5) rotate(-90)" font-size="6.6" text-anchor="middle" font-family='"Liberation Serif", serif' font-weight="bold" fill="#3a3a3a">10<tspan dx="0.7" dy="-2.4" font-size="4.9">4</tspan></text>
<text x="421.8" y="595.5" font-size="6.6" text-anchor="middle" font-family='"Liberation Serif", serif' font-weight="bold" fill="#3a3a3a">10<tspan dx="0.7" dy="-2.4" font-size="4.9">4</tspan></text>
<rect x="343.8" y="512" width="1" height="1" fill="#444"/><rect x="343.8" y="515" width="1" height="1" fill="#444"/><rect x="343.8" y="518" width="1" height="1" fill="#444"/><rect x="343.8" y="521" width="1" height="1" fill="#444"/><rect x="343.8" y="524" width="1" height="1" fill="#444"/><rect x="343.8" y="527" width="1" height="1" fill="#444"/><rect x="343.8" y="530" width="1" height="1" fill="#444"/><rect x="343.8" y="533" width="1" height="1" fill="#444"/><rect x="343.8" y="536" width="1" height="1" fill="#444"/><rect x="343.8" y="539" width="1" height="1" fill="#444"/><rect x="343.8" y="542" width="1" height="1" fill="#444"/><rect x="343.8" y="545" width="1" height="1" fill="#444"/><rect x="343.8" y="548" width="1" height="1" fill="#444"/><rect x="343.8" y="551" width="1" height="1" fill="#444"/><rect x="343.8" y="554" width="1" height="1" fill="#444"/><rect x="343.8" y="557" width="1" height="1" fill="#444"/><rect x="343.8" y="560" width="1" height="1" fill="#444"/><rect x="343.8" y="563" width="1" height="1" fill="#444"/><rect x="343.8" y="566" width="1" height="1" fill="#444"/><rect x="343.8" y="569" width="1" height="1" fill="#444"/><rect x="343.8" y="572" width="1" height="1" fill="#444"/><rect x="343.8" y="575" width="1" height="1" fill="#444"/><rect x="343.8" y="578" width="1" height="1" fill="#444"/><rect x="343.8" y="581" width="1" height="1" fill="#444"/><rect x="343.8" y="584" width="1" height="1" fill="#444"/><rect x="343" y="585.4000000000001" width="1" height="1" fill="#444"/><rect x="346" y="585.4000000000001" width="1" height="1" fill="#444"/><rect x="349" y="585.4000000000001" width="1" height="1" fill="#444"/><rect x="352" y="585.4000000000001" width="1" height="1" fill="#444"/><rect x="355" y="585.4000000000001" width="1" height="1" fill="#444"/><rect x="358" y="585.4000000000001" width="1" height="1" fill="#444"/><rect x="361" y="585.4000000000001" width="1" height="1" fill="#444"/><rect x="364" y="585.4000000000001" width="1" height="1" fill="#444"/><rect x="367" y="585.4000000000001" width="1" height="1" fill="#444"/><rect x="370" y="585.4000000000001" width="1" height="1" fill="#444"/><rect x="373" y="585.4000000000001" width="1" height="1" fill="#444"/><rect x="376" y="585.4000000000001" width="1" height="1" fill="#444"/><rect x="379" y="585.4000000000001" width="1" height="1" fill="#444"/><rect x="382" y="585.4000000000001" width="1" height="1" fill="#444"/><rect x="385" y="585.4000000000001" width="1" height="1" fill="#444"/><rect x="388" y="585.4000000000001" width="1" height="1" fill="#444"/><rect x="391" y="585.4000000000001" width="1" height="1" fill="#444"/><rect x="394" y="585.4000000000001" width="1" height="1" fill="#444"/><rect x="397" y="585.4000000000001" width="1" height="1" fill="#444"/><rect x="400" y="585.4000000000001" width="1" height="1" fill="#444"/><rect x="403" y="585.4000000000001" width="1" height="1" fill="#444"/><rect x="406" y="585.4000000000001" width="1" height="1" fill="#444"/><rect x="409" y="585.4000000000001" width="1" height="1" fill="#444"/><rect x="412" y="585.4000000000001" width="1" height="1" fill="#444"/><rect x="415" y="585.4000000000001" width="1" height="1" fill="#444"/><rect x="418" y="585.4000000000001" width="1" height="1" fill="#444"/>
<rect x="145.7" y="529.1" width="0.9" height="0.9" fill="#666"/><rect x="145.9" y="527.3" width="0.9" height="0.9" fill="#666"/><rect x="142.3" y="527.5" width="0.9" height="0.9" fill="#666"/><rect x="152.6" y="528.9" width="0.9" height="0.9" fill="#666"/><rect x="152.2" y="528.5" width="0.9" height="0.9" fill="#666"/><rect x="149.0" y="528.4" width="0.9" height="0.9" fill="#666"/><rect x="138.7" y="529.9" width="0.9" height="0.9" fill="#666"/><rect x="149.5" y="529.1" width="0.9" height="0.9" fill="#666"/><rect x="138.5" y="524.2" width="0.9" height="0.9" fill="#666"/><rect x="142.6" y="527.0" width="0.9" height="0.9" fill="#666"/><rect x="148.5" y="527.9" width="0.9" height="0.9" fill="#666"/><rect x="149.6" y="526.6" width="0.9" height="0.9" fill="#666"/><rect x="148.5" y="528.9" width="0.9" height="0.9" fill="#666"/><rect x="143.7" y="531.8" width="0.9" height="0.9" fill="#666"/><rect x="149.8" y="530.6" width="0.9" height="0.9" fill="#666"/><rect x="143.9" y="526.4" width="0.9" height="0.9" fill="#666"/><rect x="145.3" y="527.8" width="0.9" height="0.9" fill="#666"/><rect x="150.2" y="528.5" width="0.9" height="0.9" fill="#666"/><rect x="144.8" y="525.9" width="0.9" height="0.9" fill="#666"/><rect x="144.4" y="530.7" width="0.9" height="0.9" fill="#666"/><rect x="143.0" y="528.5" width="0.9" height="0.9" fill="#666"/><rect x="149.1" y="524.7" width="0.9" height="0.9" fill="#666"/><rect x="147.2" y="530.9" width="0.9" height="0.9" fill="#666"/><rect x="136.9" y="527.3" width="0.9" height="0.9" fill="#666"/><rect x="146.5" y="526.2" width="0.9" height="0.9" fill="#666"/><rect x="149.5" y="527.9" width="0.9" height="0.9" fill="#666"/><rect x="139.7" y="529.8" width="0.9" height="0.9" fill="#666"/><rect x="150.3" y="530.1" width="0.9" height="0.9" fill="#666"/><rect x="154.2" y="528.8" width="0.9" height="0.9" fill="#666"/><rect x="147.6" y="525.1" width="0.9" height="0.9" fill="#666"/>
<rect x="186.5" y="529.5" width="0.9" height="0.9" fill="#555"/><rect x="182.2" y="527.8" width="0.9" height="0.9" fill="#555"/><rect x="180.1" y="529.7" width="0.9" height="0.9" fill="#555"/><rect x="189.2" y="525.9" width="0.9" height="0.9" fill="#555"/><rect x="178.2" y="531.6" width="0.9" height="0.9" fill="#555"/><rect x="189.8" y="532.4" width="0.9" height="0.9" fill="#555"/><rect x="176.4" y="524.7" width="0.9" height="0.9" fill="#555"/><rect x="185.4" y="529.2" width="0.9" height="0.9" fill="#555"/><rect x="179.5" y="533.4" width="0.9" height="0.9" fill="#555"/><rect x="188.4" y="531.4" width="0.9" height="0.9" fill="#555"/><rect x="185.0" y="532.1" width="0.9" height="0.9" fill="#555"/><rect x="190.4" y="532.5" width="0.9" height="0.9" fill="#555"/><rect x="186.1" y="532.4" width="0.9" height="0.9" fill="#555"/><rect x="177.7" y="534.2" width="0.9" height="0.9" fill="#555"/><rect x="187.8" y="532.3" width="0.9" height="0.9" fill="#555"/><rect x="176.1" y="529.4" width="0.9" height="0.9" fill="#555"/><rect x="187.4" y="526.5" width="0.9" height="0.9" fill="#555"/><rect x="183.3" y="533.5" width="0.9" height="0.9" fill="#555"/><rect x="178.8" y="535.0" width="0.9" height="0.9" fill="#555"/><rect x="186.2" y="530.6" width="0.9" height="0.9" fill="#555"/><rect x="185.3" y="532.6" width="0.9" height="0.9" fill="#555"/><rect x="184.5" y="533.9" width="0.9" height="0.9" fill="#555"/><rect x="181.4" y="530.0" width="0.9" height="0.9" fill="#555"/><rect x="188.2" y="531.1" width="0.9" height="0.9" fill="#555"/><rect x="180.5" y="533.4" width="0.9" height="0.9" fill="#555"/>
<polygon points="156,526 160,523 166,521.5 172,520.5 176,522 179,526 179.5,531 178,536 173,539 171,541 162,541 158,539 156.5,534" fill="#000" stroke="#000" stroke-width="1.2" stroke-linejoin="round"/>
<rect x="168.3" y="520.6" width="1.0" height="1.0" fill="#111"/><rect x="156.5" y="540.2" width="1.0" height="1.0" fill="#111"/><rect x="157.8" y="540.2" width="1.0" height="1.0" fill="#111"/><rect x="162.2" y="522.8" width="1.0" height="1.0" fill="#111"/><rect x="175.1" y="522.3" width="1.0" height="1.0" fill="#111"/><rect x="160.4" y="523.5" width="1.0" height="1.0" fill="#111"/><rect x="180.1" y="529.4" width="1.0" height="1.0" fill="#111"/><rect x="179.3" y="532.9" width="1.0" height="1.0" fill="#111"/><rect x="180.4" y="529.4" width="1.0" height="1.0" fill="#111"/><rect x="175.3" y="538.1" width="1.0" height="1.0" fill="#111"/><rect x="157.3" y="539.7" width="1.0" height="1.0" fill="#111"/><rect x="170.0" y="524.1" width="1.0" height="1.0" fill="#111"/><rect x="178.8" y="526.7" width="1.0" height="1.0" fill="#111"/><rect x="172.0" y="539.2" width="1.0" height="1.0" fill="#111"/><rect x="178.6" y="523.4" width="1.0" height="1.0" fill="#111"/><rect x="174.3" y="520.2" width="1.0" height="1.0" fill="#111"/><rect x="175.0" y="519.3" width="1.0" height="1.0" fill="#111"/><rect x="176.1" y="519.8" width="1.0" height="1.0" fill="#111"/><rect x="170.7" y="520.9" width="1.0" height="1.0" fill="#111"/><rect x="158.3" y="523.8" width="1.0" height="1.0" fill="#111"/><rect x="159.5" y="542.0" width="1.0" height="1.0" fill="#111"/><rect x="178.9" y="531.5" width="1.0" height="1.0" fill="#111"/><rect x="173.1" y="522.5" width="1.0" height="1.0" fill="#111"/><rect x="161.6" y="541.2" width="1.0" height="1.0" fill="#111"/><rect x="156.5" y="528.3" width="1.0" height="1.0" fill="#111"/><rect x="178.3" y="533.4" width="1.0" height="1.0" fill="#111"/><rect x="168.2" y="520.6" width="1.0" height="1.0" fill="#111"/><rect x="154.8" y="538.8" width="1.0" height="1.0" fill="#111"/><rect x="158.1" y="538.2" width="1.0" height="1.0" fill="#111"/><rect x="163.1" y="540.3" width="1.0" height="1.0" fill="#111"/><rect x="161.5" y="540.0" width="1.0" height="1.0" fill="#111"/><rect x="174.2" y="540.4" width="1.0" height="1.0" fill="#111"/><rect x="154.0" y="535.2" width="1.0" height="1.0" fill="#111"/><rect x="178.9" y="538.4" width="1.0" height="1.0" fill="#111"/><rect x="156.8" y="526.2" width="1.0" height="1.0" fill="#111"/><rect x="165.7" y="540.3" width="1.0" height="1.0" fill="#111"/><rect x="158.8" y="524.4" width="1.0" height="1.0" fill="#111"/><rect x="161.2" y="540.7" width="1.0" height="1.0" fill="#111"/><rect x="173.6" y="540.5" width="1.0" height="1.0" fill="#111"/><rect x="172.4" y="536.9" width="1.0" height="1.0" fill="#111"/><rect x="165.0" y="521.7" width="1.0" height="1.0" fill="#111"/><rect x="172.2" y="537.7" width="1.0" height="1.0" fill="#111"/><rect x="175.4" y="539.4" width="1.0" height="1.0" fill="#111"/><rect x="173.3" y="520.9" width="1.0" height="1.0" fill="#111"/><rect x="175.4" y="534.8" width="1.0" height="1.0" fill="#111"/><rect x="178.1" y="536.7" width="1.0" height="1.0" fill="#111"/><rect x="173.2" y="522.0" width="1.0" height="1.0" fill="#111"/><rect x="175.5" y="539.1" width="1.0" height="1.0" fill="#111"/><rect x="179.5" y="525.1" width="1.0" height="1.0" fill="#111"/><rect x="178.3" y="537.4" width="1.0" height="1.0" fill="#111"/><rect x="163.2" y="522.4" width="1.0" height="1.0" fill="#111"/><rect x="179.0" y="524.7" width="1.0" height="1.0" fill="#111"/><rect x="156.4" y="536.5" width="1.0" height="1.0" fill="#111"/><rect x="172.4" y="523.7" width="1.0" height="1.0" fill="#111"/><rect x="179.2" y="537.1" width="1.0" height="1.0" fill="#111"/><rect x="171.2" y="521.4" width="1.0" height="1.0" fill="#111"/><rect x="178.9" y="528.6" width="1.0" height="1.0" fill="#111"/><rect x="177.7" y="525.6" width="1.0" height="1.0" fill="#111"/><rect x="156.5" y="524.7" width="1.0" height="1.0" fill="#111"/><rect x="161.5" y="522.4" width="1.0" height="1.0" fill="#111"/><rect x="160.1" y="525.7" width="1.0" height="1.0" fill="#111"/><rect x="168.6" y="522.2" width="1.0" height="1.0" fill="#111"/><rect x="158.7" y="540.1" width="1.0" height="1.0" fill="#111"/><rect x="171.7" y="539.6" width="1.0" height="1.0" fill="#111"/><rect x="160.3" y="526.1" width="1.0" height="1.0" fill="#111"/><rect x="177.3" y="524.0" width="1.0" height="1.0" fill="#111"/><rect x="163.8" y="523.1" width="1.0" height="1.0" fill="#111"/><rect x="161.8" y="523.7" width="1.0" height="1.0" fill="#111"/><rect x="179.8" y="525.0" width="1.0" height="1.0" fill="#111"/><rect x="165.8" y="522.4" width="1.0" height="1.0" fill="#111"/><rect x="177.0" y="524.3" width="1.0" height="1.0" fill="#111"/><rect x="176.0" y="538.6" width="1.0" height="1.0" fill="#111"/><rect x="160.2" y="523.1" width="1.0" height="1.0" fill="#111"/><rect x="172.4" y="541.5" width="1.0" height="1.0" fill="#111"/><rect x="178.0" y="535.1" width="1.0" height="1.0" fill="#111"/><rect x="177.9" y="535.4" width="1.0" height="1.0" fill="#111"/><rect x="179.2" y="524.6" width="1.0" height="1.0" fill="#111"/><rect x="159.4" y="538.4" width="1.0" height="1.0" fill="#111"/><rect x="161.2" y="523.7" width="1.0" height="1.0" fill="#111"/><rect x="179.1" y="524.4" width="1.0" height="1.0" fill="#111"/><rect x="177.7" y="534.4" width="1.0" height="1.0" fill="#111"/><rect x="175.6" y="521.8" width="1.0" height="1.0" fill="#111"/><rect x="177.1" y="527.1" width="1.0" height="1.0" fill="#111"/><rect x="175.0" y="540.2" width="1.0" height="1.0" fill="#111"/><rect x="174.7" y="521.0" width="1.0" height="1.0" fill="#111"/><rect x="176.1" y="536.0" width="1.0" height="1.0" fill="#111"/><rect x="156.4" y="534.5" width="1.0" height="1.0" fill="#111"/><rect x="177.8" y="534.6" width="1.0" height="1.0" fill="#111"/><rect x="159.7" y="539.7" width="1.0" height="1.0" fill="#111"/><rect x="158.2" y="531.3" width="1.0" height="1.0" fill="#111"/><rect x="165.8" y="544.3" width="1.0" height="1.0" fill="#111"/><rect x="167.2" y="520.7" width="1.0" height="1.0" fill="#111"/><rect x="155.2" y="533.0" width="1.0" height="1.0" fill="#111"/><rect x="158.1" y="528.8" width="1.0" height="1.0" fill="#111"/><rect x="164.3" y="538.7" width="1.0" height="1.0" fill="#111"/><rect x="163.0" y="537.8" width="1.0" height="1.0" fill="#111"/><rect x="161.8" y="540.7" width="1.0" height="1.0" fill="#111"/><rect x="178.5" y="531.8" width="1.0" height="1.0" fill="#111"/><rect x="157.1" y="522.7" width="1.0" height="1.0" fill="#111"/><rect x="176.2" y="536.9" width="1.0" height="1.0" fill="#111"/><rect x="172.5" y="541.7" width="1.0" height="1.0" fill="#111"/><rect x="156.9" y="535.8" width="1.0" height="1.0" fill="#111"/><rect x="176.7" y="522.0" width="1.0" height="1.0" fill="#111"/><rect x="156.8" y="539.1" width="1.0" height="1.0" fill="#111"/><rect x="173.4" y="539.1" width="1.0" height="1.0" fill="#111"/><rect x="160.1" y="540.1" width="1.0" height="1.0" fill="#111"/><rect x="177.3" y="522.9" width="1.0" height="1.0" fill="#111"/><rect x="167.0" y="521.9" width="1.0" height="1.0" fill="#111"/><rect x="161.9" y="542.3" width="1.0" height="1.0" fill="#111"/><rect x="155.8" y="536.7" width="1.0" height="1.0" fill="#111"/><rect x="164.9" y="521.2" width="1.0" height="1.0" fill="#111"/><rect x="167.0" y="521.8" width="1.0" height="1.0" fill="#111"/><rect x="170.1" y="541.3" width="1.0" height="1.0" fill="#111"/><rect x="176.1" y="521.7" width="1.0" height="1.0" fill="#111"/><rect x="157.7" y="522.3" width="1.0" height="1.0" fill="#111"/><rect x="168.9" y="520.1" width="1.0" height="1.0" fill="#111"/><rect x="164.5" y="524.7" width="1.0" height="1.0" fill="#111"/><rect x="177.8" y="539.9" width="1.0" height="1.0" fill="#111"/><rect x="160.0" y="540.8" width="1.0" height="1.0" fill="#111"/><rect x="180.0" y="528.7" width="1.0" height="1.0" fill="#111"/><rect x="179.7" y="529.2" width="1.0" height="1.0" fill="#111"/><rect x="175.7" y="520.9" width="1.0" height="1.0" fill="#111"/><rect x="177.0" y="528.0" width="1.0" height="1.0" fill="#111"/><rect x="161.2" y="522.9" width="1.0" height="1.0" fill="#111"/><rect x="158.9" y="525.8" width="1.0" height="1.0" fill="#111"/><rect x="158.3" y="540.2" width="1.0" height="1.0" fill="#111"/><rect x="172.7" y="537.4" width="1.0" height="1.0" fill="#111"/><rect x="178.9" y="533.7" width="1.0" height="1.0" fill="#111"/><rect x="171.8" y="539.7" width="1.0" height="1.0" fill="#111"/><rect x="156.9" y="536.5" width="1.0" height="1.0" fill="#111"/><rect x="178.9" y="523.1" width="1.0" height="1.0" fill="#111"/><rect x="168.2" y="521.9" width="1.0" height="1.0" fill="#111"/><rect x="156.1" y="534.2" width="1.0" height="1.0" fill="#111"/><rect x="172.0" y="520.5" width="1.0" height="1.0" fill="#111"/><rect x="171.2" y="521.6" width="1.0" height="1.0" fill="#111"/><rect x="156.8" y="532.8" width="1.0" height="1.0" fill="#111"/><rect x="156.8" y="531.1" width="1.0" height="1.0" fill="#111"/><rect x="160.0" y="522.3" width="1.0" height="1.0" fill="#111"/><rect x="176.7" y="526.1" width="1.0" height="1.0" fill="#111"/><rect x="155.1" y="536.1" width="1.0" height="1.0" fill="#111"/>
<rect x="296.7" y="544.8" width="0.9" height="0.9" fill="#555"/><rect x="296.1" y="535.1" width="0.9" height="0.9" fill="#555"/><rect x="293.0" y="538.9" width="0.9" height="0.9" fill="#555"/><rect x="294.3" y="535.3" width="0.9" height="0.9" fill="#555"/><rect x="297.7" y="531.6" width="0.9" height="0.9" fill="#555"/><rect x="302.2" y="546.9" width="0.9" height="0.9" fill="#555"/><rect x="292.2" y="545.8" width="0.9" height="0.9" fill="#555"/><rect x="293.2" y="542.8" width="0.9" height="0.9" fill="#555"/><rect x="299.6" y="528.9" width="0.9" height="0.9" fill="#555"/><rect x="298.6" y="544.8" width="0.9" height="0.9" fill="#555"/><rect x="296.5" y="532.0" width="0.9" height="0.9" fill="#555"/><rect x="300.0" y="539.9" width="0.9" height="0.9" fill="#555"/><rect x="303.2" y="546.1" width="0.9" height="0.9" fill="#555"/><rect x="299.9" y="538.3" width="0.9" height="0.9" fill="#555"/><rect x="292.3" y="542.1" width="0.9" height="0.9" fill="#555"/><rect x="296.5" y="537.5" width="0.9" height="0.9" fill="#555"/><rect x="301.4" y="551.9" width="0.9" height="0.9" fill="#555"/><rect x="301.1" y="546.9" width="0.9" height="0.9" fill="#555"/><rect x="293.9" y="531.8" width="0.9" height="0.9" fill="#555"/><rect x="297.2" y="539.7" width="0.9" height="0.9" fill="#555"/><rect x="296.0" y="540.7" width="0.9" height="0.9" fill="#555"/><rect x="299.2" y="545.6" width="0.9" height="0.9" fill="#555"/><rect x="301.4" y="542.9" width="0.9" height="0.9" fill="#555"/><rect x="300.8" y="539.4" width="0.9" height="0.9" fill="#555"/><rect x="292.3" y="540.1" width="0.9" height="0.9" fill="#555"/><rect x="296.1" y="538.7" width="0.9" height="0.9" fill="#555"/><rect x="293.4" y="552.4" width="0.9" height="0.9" fill="#555"/><rect x="297.0" y="544.6" width="0.9" height="0.9" fill="#555"/><rect x="296.0" y="540.8" width="0.9" height="0.9" fill="#555"/><rect x="284.6" y="537.1" width="0.9" height="0.9" fill="#555"/>
<rect x="261.4" y="543.6" width="0.9" height="0.9" fill="#888"/><rect x="263.6" y="539.1" width="0.9" height="0.9" fill="#888"/><rect x="257.0" y="540.4" width="0.9" height="0.9" fill="#888"/><rect x="266.1" y="541.6" width="0.9" height="0.9" fill="#888"/><rect x="261.2" y="540.2" width="0.9" height="0.9" fill="#888"/><rect x="264.9" y="546.9" width="0.9" height="0.9" fill="#888"/><rect x="261.0" y="540.0" width="0.9" height="0.9" fill="#888"/><rect x="262.6" y="544.1" width="0.9" height="0.9" fill="#888"/><rect x="258.8" y="543.5" width="0.9" height="0.9" fill="#888"/><rect x="259.9" y="536.5" width="0.9" height="0.9" fill="#888"/><rect x="259.4" y="543.3" width="0.9" height="0.9" fill="#888"/><rect x="265.3" y="541.1" width="0.9" height="0.9" fill="#888"/>
<polygon points="281,526.5 287,532.3 290,540.4 289,551.5 285,555 273.5,555 270,550.5 270.5,541.5 274,532.3 277.5,528.3" fill="#000" stroke="#000" stroke-width="1.2" stroke-linejoin="round"/>
<rect x="273.6" y="532.0" width="1.0" height="1.0" fill="#111"/><rect x="288.4" y="554.0" width="1.0" height="1.0" fill="#111"/><rect x="282.8" y="554.0" width="1.0" height="1.0" fill="#111"/><rect x="287.3" y="553.0" width="1.0" height="1.0" fill="#111"/><rect x="277.5" y="528.5" width="1.0" height="1.0" fill="#111"/><rect x="278.3" y="528.2" width="1.0" height="1.0" fill="#111"/><rect x="270.0" y="545.6" width="1.0" height="1.0" fill="#111"/><rect x="290.8" y="540.0" width="1.0" height="1.0" fill="#111"/><rect x="288.2" y="547.5" width="1.0" height="1.0" fill="#111"/><rect x="276.7" y="555.7" width="1.0" height="1.0" fill="#111"/><rect x="272.3" y="553.3" width="1.0" height="1.0" fill="#111"/><rect x="288.5" y="535.0" width="1.0" height="1.0" fill="#111"/><rect x="287.6" y="552.0" width="1.0" height="1.0" fill="#111"/><rect x="269.9" y="549.1" width="1.0" height="1.0" fill="#111"/><rect x="277.6" y="529.5" width="1.0" height="1.0" fill="#111"/><rect x="269.1" y="542.2" width="1.0" height="1.0" fill="#111"/><rect x="270.4" y="550.2" width="1.0" height="1.0" fill="#111"/><rect x="282.5" y="525.9" width="1.0" height="1.0" fill="#111"/><rect x="271.0" y="555.5" width="1.0" height="1.0" fill="#111"/><rect x="282.4" y="527.2" width="1.0" height="1.0" fill="#111"/><rect x="281.3" y="553.7" width="1.0" height="1.0" fill="#111"/><rect x="287.2" y="533.6" width="1.0" height="1.0" fill="#111"/><rect x="273.3" y="533.2" width="1.0" height="1.0" fill="#111"/><rect x="271.2" y="544.0" width="1.0" height="1.0" fill="#111"/><rect x="285.7" y="529.3" width="1.0" height="1.0" fill="#111"/><rect x="289.0" y="547.9" width="1.0" height="1.0" fill="#111"/><rect x="269.8" y="550.8" width="1.0" height="1.0" fill="#111"/><rect x="270.4" y="544.1" width="1.0" height="1.0" fill="#111"/><rect x="283.3" y="529.1" width="1.0" height="1.0" fill="#111"/><rect x="271.2" y="542.5" width="1.0" height="1.0" fill="#111"/><rect x="285.0" y="535.4" width="1.0" height="1.0" fill="#111"/><rect x="271.9" y="540.7" width="1.0" height="1.0" fill="#111"/><rect x="286.9" y="552.9" width="1.0" height="1.0" fill="#111"/><rect x="289.1" y="539.4" width="1.0" height="1.0" fill="#111"/><rect x="280.7" y="554.3" width="1.0" height="1.0" fill="#111"/><rect x="288.3" y="553.0" width="1.0" height="1.0" fill="#111"/><rect x="278.9" y="528.3" width="1.0" height="1.0" fill="#111"/><rect x="287.2" y="555.1" width="1.0" height="1.0" fill="#111"/><rect x="274.9" y="533.1" width="1.0" height="1.0" fill="#111"/><rect x="285.9" y="554.3" width="1.0" height="1.0" fill="#111"/><rect x="283.6" y="555.4" width="1.0" height="1.0" fill="#111"/><rect x="279.2" y="528.5" width="1.0" height="1.0" fill="#111"/><rect x="289.4" y="547.1" width="1.0" height="1.0" fill="#111"/><rect x="280.5" y="526.3" width="1.0" height="1.0" fill="#111"/><rect x="288.7" y="551.9" width="1.0" height="1.0" fill="#111"/><rect x="284.3" y="552.8" width="1.0" height="1.0" fill="#111"/><rect x="285.1" y="531.8" width="1.0" height="1.0" fill="#111"/><rect x="279.1" y="529.4" width="1.0" height="1.0" fill="#111"/><rect x="274.2" y="531.3" width="1.0" height="1.0" fill="#111"/><rect x="273.1" y="531.4" width="1.0" height="1.0" fill="#111"/><rect x="269.7" y="544.7" width="1.0" height="1.0" fill="#111"/><rect x="281.8" y="555.5" width="1.0" height="1.0" fill="#111"/><rect x="273.7" y="553.3" width="1.0" height="1.0" fill="#111"/><rect x="270.5" y="552.7" width="1.0" height="1.0" fill="#111"/><rect x="283.9" y="529.4" width="1.0" height="1.0" fill="#111"/><rect x="289.0" y="534.8" width="1.0" height="1.0" fill="#111"/><rect x="290.4" y="542.0" width="1.0" height="1.0" fill="#111"/><rect x="269.4" y="549.0" width="1.0" height="1.0" fill="#111"/><rect x="274.3" y="532.1" width="1.0" height="1.0" fill="#111"/><rect x="290.0" y="551.4" width="1.0" height="1.0" fill="#111"/><rect x="287.9" y="552.3" width="1.0" height="1.0" fill="#111"/><rect x="270.5" y="537.7" width="1.0" height="1.0" fill="#111"/><rect x="288.4" y="538.3" width="1.0" height="1.0" fill="#111"/><rect x="290.2" y="546.4" width="1.0" height="1.0" fill="#111"/><rect x="280.8" y="526.2" width="1.0" height="1.0" fill="#111"/><rect x="289.4" y="551.4" width="1.0" height="1.0" fill="#111"/><rect x="273.1" y="556.1" width="1.0" height="1.0" fill="#111"/><rect x="287.3" y="551.0" width="1.0" height="1.0" fill="#111"/><rect x="284.6" y="531.3" width="1.0" height="1.0" fill="#111"/><rect x="271.8" y="535.8" width="1.0" height="1.0" fill="#111"/><rect x="270.2" y="548.7" width="1.0" height="1.0" fill="#111"/><rect x="271.7" y="553.1" width="1.0" height="1.0" fill="#111"/><rect x="279.9" y="526.8" width="1.0" height="1.0" fill="#111"/><rect x="279.6" y="527.1" width="1.0" height="1.0" fill="#111"/><rect x="272.8" y="538.2" width="1.0" height="1.0" fill="#111"/><rect x="272.1" y="555.0" width="1.0" height="1.0" fill="#111"/><rect x="282.8" y="528.4" width="1.0" height="1.0" fill="#111"/><rect x="270.4" y="551.5" width="1.0" height="1.0" fill="#111"/><rect x="276.1" y="527.3" width="1.0" height="1.0" fill="#111"/><rect x="287.8" y="531.4" width="1.0" height="1.0" fill="#111"/><rect x="288.7" y="533.7" width="1.0" height="1.0" fill="#111"/><rect x="289.2" y="547.3" width="1.0" height="1.0" fill="#111"/><rect x="271.4" y="553.1" width="1.0" height="1.0" fill="#111"/><rect x="278.7" y="527.3" width="1.0" height="1.0" fill="#111"/><rect x="276.0" y="528.6" width="1.0" height="1.0" fill="#111"/><rect x="279.2" y="527.6" width="1.0" height="1.0" fill="#111"/><rect x="289.1" y="544.3" width="1.0" height="1.0" fill="#111"/><rect x="271.2" y="552.5" width="1.0" height="1.0" fill="#111"/><rect x="291.2" y="539.1" width="1.0" height="1.0" fill="#111"/><rect x="270.6" y="535.4" width="1.0" height="1.0" fill="#111"/><rect x="285.8" y="533.9" width="1.0" height="1.0" fill="#111"/><rect x="273.9" y="553.7" width="1.0" height="1.0" fill="#111"/><rect x="273.0" y="553.9" width="1.0" height="1.0" fill="#111"/><rect x="281.9" y="527.5" width="1.0" height="1.0" fill="#111"/><rect x="283.4" y="554.6" width="1.0" height="1.0" fill="#111"/><rect x="270.9" y="551.0" width="1.0" height="1.0" fill="#111"/><rect x="276.8" y="555.5" width="1.0" height="1.0" fill="#111"/><rect x="282.0" y="528.7" width="1.0" height="1.0" fill="#111"/><rect x="280.5" y="526.5" width="1.0" height="1.0" fill="#111"/><rect x="275.5" y="532.2" width="1.0" height="1.0" fill="#111"/><rect x="276.7" y="529.5" width="1.0" height="1.0" fill="#111"/><rect x="290.6" y="541.6" width="1.0" height="1.0" fill="#111"/><rect x="290.1" y="545.6" width="1.0" height="1.0" fill="#111"/><rect x="280.4" y="555.2" width="1.0" height="1.0" fill="#111"/><rect x="276.0" y="528.0" width="1.0" height="1.0" fill="#111"/><rect x="280.7" y="525.9" width="1.0" height="1.0" fill="#111"/><rect x="280.3" y="526.6" width="1.0" height="1.0" fill="#111"/><rect x="288.8" y="551.8" width="1.0" height="1.0" fill="#111"/><rect x="279.9" y="527.1" width="1.0" height="1.0" fill="#111"/><rect x="286.0" y="552.2" width="1.0" height="1.0" fill="#111"/><rect x="270.8" y="543.9" width="1.0" height="1.0" fill="#111"/><rect x="279.4" y="554.9" width="1.0" height="1.0" fill="#111"/><rect x="274.9" y="535.0" width="1.0" height="1.0" fill="#111"/><rect x="270.4" y="540.2" width="1.0" height="1.0" fill="#111"/><rect x="287.5" y="534.0" width="1.0" height="1.0" fill="#111"/><rect x="276.7" y="556.3" width="1.0" height="1.0" fill="#111"/><rect x="272.7" y="543.0" width="1.0" height="1.0" fill="#111"/><rect x="278.3" y="554.8" width="1.0" height="1.0" fill="#111"/><rect x="274.0" y="533.0" width="1.0" height="1.0" fill="#111"/><rect x="285.2" y="553.9" width="1.0" height="1.0" fill="#111"/><rect x="270.3" y="549.7" width="1.0" height="1.0" fill="#111"/><rect x="276.5" y="529.1" width="1.0" height="1.0" fill="#111"/><rect x="283.4" y="527.8" width="1.0" height="1.0" fill="#111"/><rect x="274.9" y="555.8" width="1.0" height="1.0" fill="#111"/><rect x="280.8" y="526.8" width="1.0" height="1.0" fill="#111"/><rect x="290.3" y="539.7" width="1.0" height="1.0" fill="#111"/><rect x="282.1" y="527.8" width="1.0" height="1.0" fill="#111"/><rect x="285.2" y="530.2" width="1.0" height="1.0" fill="#111"/><rect x="280.9" y="529.3" width="1.0" height="1.0" fill="#111"/><rect x="279.0" y="529.5" width="1.0" height="1.0" fill="#111"/><rect x="270.2" y="550.0" width="1.0" height="1.0" fill="#111"/><rect x="288.1" y="531.1" width="1.0" height="1.0" fill="#111"/><rect x="288.9" y="538.4" width="1.0" height="1.0" fill="#111"/><rect x="287.8" y="532.0" width="1.0" height="1.0" fill="#111"/><rect x="281.1" y="555.1" width="1.0" height="1.0" fill="#111"/><rect x="275.9" y="555.5" width="1.0" height="1.0" fill="#111"/><rect x="269.9" y="550.9" width="1.0" height="1.0" fill="#111"/><rect x="278.9" y="555.2" width="1.0" height="1.0" fill="#111"/><rect x="271.2" y="546.5" width="1.0" height="1.0" fill="#111"/><rect x="284.6" y="531.6" width="1.0" height="1.0" fill="#111"/><rect x="288.5" y="538.0" width="1.0" height="1.0" fill="#111"/><rect x="274.9" y="528.7" width="1.0" height="1.0" fill="#111"/><rect x="284.4" y="529.4" width="1.0" height="1.0" fill="#111"/><rect x="286.9" y="549.8" width="1.0" height="1.0" fill="#111"/><rect x="275.7" y="531.0" width="1.0" height="1.0" fill="#111"/><rect x="285.3" y="555.4" width="1.0" height="1.0" fill="#111"/><rect x="289.8" y="536.2" width="1.0" height="1.0" fill="#111"/><rect x="288.3" y="538.2" width="1.0" height="1.0" fill="#111"/><rect x="270.4" y="541.4" width="1.0" height="1.0" fill="#111"/><rect x="282.9" y="529.7" width="1.0" height="1.0" fill="#111"/><rect x="274.2" y="531.7" width="1.0" height="1.0" fill="#111"/><rect x="286.2" y="555.8" width="1.0" height="1.0" fill="#111"/><rect x="279.2" y="527.9" width="1.0" height="1.0" fill="#111"/><rect x="287.9" y="550.4" width="1.0" height="1.0" fill="#111"/><rect x="271.3" y="554.9" width="1.0" height="1.0" fill="#111"/><rect x="277.6" y="529.1" width="1.0" height="1.0" fill="#111"/><rect x="286.8" y="554.9" width="1.0" height="1.0" fill="#111"/><rect x="278.5" y="528.6" width="1.0" height="1.0" fill="#111"/><rect x="271.0" y="552.9" width="1.0" height="1.0" fill="#111"/><rect x="291.1" y="551.5" width="1.0" height="1.0" fill="#111"/><rect x="289.8" y="551.7" width="1.0" height="1.0" fill="#111"/><rect x="289.1" y="548.2" width="1.0" height="1.0" fill="#111"/><rect x="289.3" y="551.5" width="1.0" height="1.0" fill="#111"/><rect x="272.2" y="546.5" width="1.0" height="1.0" fill="#111"/><rect x="268.9" y="544.3" width="1.0" height="1.0" fill="#111"/><rect x="270.5" y="542.9" width="1.0" height="1.0" fill="#111"/><rect x="286.3" y="530.2" width="1.0" height="1.0" fill="#111"/><rect x="278.4" y="525.7" width="1.0" height="1.0" fill="#111"/><rect x="279.9" y="525.5" width="1.0" height="1.0" fill="#111"/><rect x="271.9" y="539.1" width="1.0" height="1.0" fill="#111"/><rect x="268.8" y="549.2" width="1.0" height="1.0" fill="#111"/><rect x="288.8" y="543.7" width="1.0" height="1.0" fill="#111"/><rect x="279.0" y="526.6" width="1.0" height="1.0" fill="#111"/><rect x="289.0" y="550.5" width="1.0" height="1.0" fill="#111"/><rect x="274.3" y="533.6" width="1.0" height="1.0" fill="#111"/><rect x="288.8" y="549.7" width="1.0" height="1.0" fill="#111"/><rect x="275.9" y="530.0" width="1.0" height="1.0" fill="#111"/><rect x="284.7" y="553.9" width="1.0" height="1.0" fill="#111"/><rect x="269.6" y="554.0" width="1.0" height="1.0" fill="#111"/><rect x="285.5" y="556.1" width="1.0" height="1.0" fill="#111"/>
<rect x="406.4" y="535.0" width="0.9" height="0.9" fill="#666"/><rect x="398.8" y="534.2" width="0.9" height="0.9" fill="#666"/><rect x="402.0" y="539.9" width="0.9" height="0.9" fill="#666"/><rect x="403.1" y="537.4" width="0.9" height="0.9" fill="#666"/><rect x="405.6" y="534.9" width="0.9" height="0.9" fill="#666"/><rect x="400.2" y="533.5" width="0.9" height="0.9" fill="#666"/><rect x="404.0" y="538.6" width="0.9" height="0.9" fill="#666"/><rect x="396.0" y="541.4" width="0.9" height="0.9" fill="#666"/><rect x="411.5" y="535.3" width="0.9" height="0.9" fill="#666"/><rect x="405.2" y="536.2" width="0.9" height="0.9" fill="#666"/><rect x="405.5" y="542.9" width="0.9" height="0.9" fill="#666"/><rect x="406.9" y="539.3" width="0.9" height="0.9" fill="#666"/><rect x="403.5" y="541.0" width="0.9" height="0.9" fill="#666"/><rect x="401.0" y="531.6" width="0.9" height="0.9" fill="#666"/><rect x="404.7" y="540.5" width="0.9" height="0.9" fill="#666"/>
<rect x="367.5" y="536.3" width="0.9" height="0.9" fill="#999"/><rect x="352.6" y="546.2" width="0.9" height="0.9" fill="#999"/><rect x="364.4" y="536.7" width="0.9" height="0.9" fill="#999"/><rect x="364.8" y="537.7" width="0.9" height="0.9" fill="#999"/><rect x="364.6" y="538.9" width="0.9" height="0.9" fill="#999"/><rect x="362.3" y="536.6" width="0.9" height="0.9" fill="#999"/><rect x="370.0" y="540.5" width="0.9" height="0.9" fill="#999"/><rect x="356.8" y="541.6" width="0.9" height="0.9" fill="#999"/><rect x="365.1" y="538.3" width="0.9" height="0.9" fill="#999"/><rect x="362.0" y="538.8" width="0.9" height="0.9" fill="#999"/>
<polygon points="383,533 388,532 394,533 398.5,535.5 397.5,541 394,549 391,553.5 383,554.5 379,551 378.5,546 380,539" fill="#000" stroke="#000" stroke-width="1.2" stroke-linejoin="round"/>
<rect x="380.1" y="551.7" width="1.0" height="1.0" fill="#111"/><rect x="393.2" y="550.8" width="1.0" height="1.0" fill="#111"/><rect x="394.7" y="531.7" width="1.0" height="1.0" fill="#111"/><rect x="395.5" y="535.6" width="1.0" height="1.0" fill="#111"/><rect x="381.7" y="538.4" width="1.0" height="1.0" fill="#111"/><rect x="393.3" y="544.8" width="1.0" height="1.0" fill="#111"/><rect x="397.1" y="535.5" width="1.0" height="1.0" fill="#111"/><rect x="385.9" y="556.5" width="1.0" height="1.0" fill="#111"/><rect x="382.1" y="540.6" width="1.0" height="1.0" fill="#111"/><rect x="379.0" y="546.4" width="1.0" height="1.0" fill="#111"/><rect x="397.9" y="537.1" width="1.0" height="1.0" fill="#111"/><rect x="391.3" y="533.4" width="1.0" height="1.0" fill="#111"/><rect x="394.8" y="533.7" width="1.0" height="1.0" fill="#111"/><rect x="397.2" y="535.5" width="1.0" height="1.0" fill="#111"/><rect x="382.1" y="540.1" width="1.0" height="1.0" fill="#111"/><rect x="379.2" y="552.1" width="1.0" height="1.0" fill="#111"/><rect x="378.8" y="554.7" width="1.0" height="1.0" fill="#111"/><rect x="388.0" y="533.5" width="1.0" height="1.0" fill="#111"/><rect x="384.9" y="529.9" width="1.0" height="1.0" fill="#111"/><rect x="392.7" y="553.4" width="1.0" height="1.0" fill="#111"/><rect x="393.8" y="531.4" width="1.0" height="1.0" fill="#111"/><rect x="393.1" y="548.5" width="1.0" height="1.0" fill="#111"/><rect x="379.6" y="547.7" width="1.0" height="1.0" fill="#111"/><rect x="390.6" y="550.2" width="1.0" height="1.0" fill="#111"/><rect x="395.2" y="543.9" width="1.0" height="1.0" fill="#111"/><rect x="394.0" y="548.7" width="1.0" height="1.0" fill="#111"/><rect x="379.3" y="552.6" width="1.0" height="1.0" fill="#111"/><rect x="397.6" y="541.9" width="1.0" height="1.0" fill="#111"/><rect x="383.8" y="532.2" width="1.0" height="1.0" fill="#111"/><rect x="378.5" y="545.8" width="1.0" height="1.0" fill="#111"/><rect x="395.7" y="540.3" width="1.0" height="1.0" fill="#111"/><rect x="388.3" y="531.3" width="1.0" height="1.0" fill="#111"/><rect x="377.9" y="543.3" width="1.0" height="1.0" fill="#111"/><rect x="381.9" y="538.9" width="1.0" height="1.0" fill="#111"/><rect x="382.9" y="534.9" width="1.0" height="1.0" fill="#111"/><rect x="387.3" y="534.2" width="1.0" height="1.0" fill="#111"/><rect x="385.8" y="530.7" width="1.0" height="1.0" fill="#111"/><rect x="379.1" y="546.9" width="1.0" height="1.0" fill="#111"/><rect x="383.0" y="533.4" width="1.0" height="1.0" fill="#111"/><rect x="383.3" y="532.2" width="1.0" height="1.0" fill="#111"/><rect x="387.5" y="553.4" width="1.0" height="1.0" fill="#111"/><rect x="383.3" y="530.2" width="1.0" height="1.0" fill="#111"/><rect x="381.7" y="533.3" width="1.0" height="1.0" fill="#111"/><rect x="386.0" y="532.5" width="1.0" height="1.0" fill="#111"/><rect x="381.9" y="539.0" width="1.0" height="1.0" fill="#111"/><rect x="394.5" y="532.3" width="1.0" height="1.0" fill="#111"/><rect x="390.7" y="532.3" width="1.0" height="1.0" fill="#111"/><rect x="398.0" y="535.3" width="1.0" height="1.0" fill="#111"/><rect x="391.1" y="550.2" width="1.0" height="1.0" fill="#111"/><rect x="388.4" y="531.8" width="1.0" height="1.0" fill="#111"/><rect x="382.7" y="536.5" width="1.0" height="1.0" fill="#111"/><rect x="384.8" y="533.1" width="1.0" height="1.0" fill="#111"/><rect x="377.9" y="547.2" width="1.0" height="1.0" fill="#111"/><rect x="399.1" y="534.0" width="1.0" height="1.0" fill="#111"/><rect x="391.7" y="550.1" width="1.0" height="1.0" fill="#111"/><rect x="381.1" y="537.9" width="1.0" height="1.0" fill="#111"/><rect x="380.9" y="536.7" width="1.0" height="1.0" fill="#111"/><rect x="379.6" y="549.7" width="1.0" height="1.0" fill="#111"/><rect x="395.3" y="542.0" width="1.0" height="1.0" fill="#111"/><rect x="376.4" y="541.6" width="1.0" height="1.0" fill="#111"/><rect x="396.2" y="535.7" width="1.0" height="1.0" fill="#111"/><rect x="397.5" y="536.1" width="1.0" height="1.0" fill="#111"/><rect x="397.7" y="540.0" width="1.0" height="1.0" fill="#111"/><rect x="398.0" y="545.4" width="1.0" height="1.0" fill="#111"/><rect x="386.0" y="534.7" width="1.0" height="1.0" fill="#111"/><rect x="380.8" y="544.6" width="1.0" height="1.0" fill="#111"/><rect x="379.6" y="547.0" width="1.0" height="1.0" fill="#111"/><rect x="390.1" y="532.7" width="1.0" height="1.0" fill="#111"/><rect x="399.3" y="537.6" width="1.0" height="1.0" fill="#111"/><rect x="397.4" y="540.5" width="1.0" height="1.0" fill="#111"/><rect x="389.2" y="555.1" width="1.0" height="1.0" fill="#111"/><rect x="387.2" y="531.0" width="1.0" height="1.0" fill="#111"/><rect x="378.0" y="549.4" width="1.0" height="1.0" fill="#111"/><rect x="399.1" y="538.2" width="1.0" height="1.0" fill="#111"/><rect x="390.9" y="553.2" width="1.0" height="1.0" fill="#111"/><rect x="396.3" y="533.0" width="1.0" height="1.0" fill="#111"/><rect x="389.7" y="532.5" width="1.0" height="1.0" fill="#111"/><rect x="391.4" y="552.9" width="1.0" height="1.0" fill="#111"/><rect x="384.2" y="535.2" width="1.0" height="1.0" fill="#111"/><rect x="378.4" y="542.2" width="1.0" height="1.0" fill="#111"/><rect x="397.9" y="543.7" width="1.0" height="1.0" fill="#111"/><rect x="379.9" y="539.6" width="1.0" height="1.0" fill="#111"/><rect x="397.3" y="541.2" width="1.0" height="1.0" fill="#111"/><rect x="386.7" y="531.5" width="1.0" height="1.0" fill="#111"/><rect x="391.4" y="530.8" width="1.0" height="1.0" fill="#111"/><rect x="388.0" y="531.6" width="1.0" height="1.0" fill="#111"/><rect x="382.5" y="538.1" width="1.0" height="1.0" fill="#111"/><rect x="392.0" y="553.3" width="1.0" height="1.0" fill="#111"/><rect x="388.1" y="531.9" width="1.0" height="1.0" fill="#111"/><rect x="378.7" y="546.2" width="1.0" height="1.0" fill="#111"/><rect x="376.5" y="544.7" width="1.0" height="1.0" fill="#111"/><rect x="383.5" y="533.0" width="1.0" height="1.0" fill="#111"/><rect x="397.3" y="540.8" width="1.0" height="1.0" fill="#111"/><rect x="379.9" y="539.2" width="1.0" height="1.0" fill="#111"/><rect x="389.3" y="533.3" width="1.0" height="1.0" fill="#111"/><rect x="399.2" y="534.4" width="1.0" height="1.0" fill="#111"/><rect x="399.0" y="541.8" width="1.0" height="1.0" fill="#111"/><rect x="395.3" y="531.1" width="1.0" height="1.0" fill="#111"/><rect x="400.1" y="534.2" width="1.0" height="1.0" fill="#111"/><rect x="383.4" y="553.4" width="1.0" height="1.0" fill="#111"/><rect x="393.1" y="551.0" width="1.0" height="1.0" fill="#111"/><rect x="393.6" y="550.0" width="1.0" height="1.0" fill="#111"/><rect x="382.3" y="554.5" width="1.0" height="1.0" fill="#111"/><rect x="396.0" y="544.6" width="1.0" height="1.0" fill="#111"/><rect x="379.4" y="540.8" width="1.0" height="1.0" fill="#111"/><rect x="381.2" y="554.5" width="1.0" height="1.0" fill="#111"/><rect x="400.8" y="536.3" width="1.0" height="1.0" fill="#111"/><rect x="380.7" y="532.6" width="1.0" height="1.0" fill="#111"/><rect x="389.9" y="533.3" width="1.0" height="1.0" fill="#111"/><rect x="394.5" y="548.7" width="1.0" height="1.0" fill="#111"/><rect x="397.2" y="546.3" width="1.0" height="1.0" fill="#111"/><rect x="396.2" y="541.2" width="1.0" height="1.0" fill="#111"/><rect x="378.9" y="549.4" width="1.0" height="1.0" fill="#111"/><rect x="378.6" y="549.8" width="1.0" height="1.0" fill="#111"/><rect x="388.7" y="553.4" width="1.0" height="1.0" fill="#111"/><rect x="396.4" y="535.0" width="1.0" height="1.0" fill="#111"/><rect x="380.0" y="546.3" width="1.0" height="1.0" fill="#111"/><rect x="380.2" y="552.4" width="1.0" height="1.0" fill="#111"/><rect x="382.7" y="533.3" width="1.0" height="1.0" fill="#111"/><rect x="398.0" y="534.2" width="1.0" height="1.0" fill="#111"/><rect x="385.0" y="533.3" width="1.0" height="1.0" fill="#111"/><rect x="382.4" y="533.8" width="1.0" height="1.0" fill="#111"/><rect x="382.0" y="553.3" width="1.0" height="1.0" fill="#111"/><rect x="379.3" y="540.7" width="1.0" height="1.0" fill="#111"/><rect x="393.0" y="550.7" width="1.0" height="1.0" fill="#111"/><rect x="380.1" y="551.6" width="1.0" height="1.0" fill="#111"/><rect x="398.4" y="539.2" width="1.0" height="1.0" fill="#111"/><rect x="387.2" y="553.5" width="1.0" height="1.0" fill="#111"/><rect x="392.3" y="533.0" width="1.0" height="1.0" fill="#111"/><rect x="379.2" y="547.6" width="1.0" height="1.0" fill="#111"/><rect x="389.6" y="532.7" width="1.0" height="1.0" fill="#111"/><rect x="395.8" y="545.4" width="1.0" height="1.0" fill="#111"/><rect x="399.1" y="535.5" width="1.0" height="1.0" fill="#111"/><rect x="380.7" y="552.1" width="1.0" height="1.0" fill="#111"/><rect x="392.9" y="532.9" width="1.0" height="1.0" fill="#111"/><rect x="380.7" y="551.9" width="1.0" height="1.0" fill="#111"/><rect x="391.5" y="533.6" width="1.0" height="1.0" fill="#111"/><rect x="396.6" y="535.4" width="1.0" height="1.0" fill="#111"/><rect x="400.0" y="535.6" width="1.0" height="1.0" fill="#111"/><rect x="386.0" y="553.9" width="1.0" height="1.0" fill="#111"/>
</svg></body></html>
